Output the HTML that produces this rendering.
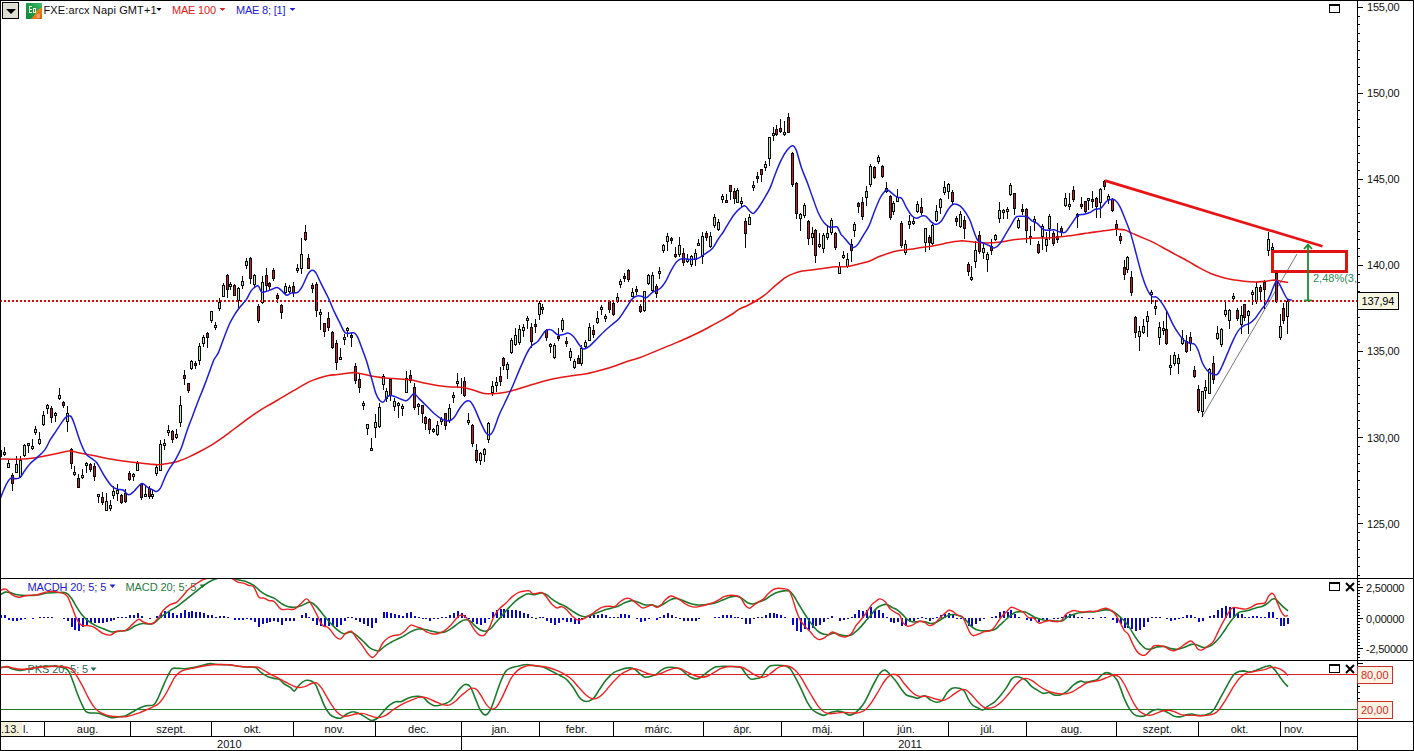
<!DOCTYPE html><html><head><meta charset="utf-8"><title>chart</title><style>html,body{margin:0;padding:0;background:#fff;width:1414px;height:751px;overflow:hidden}</style></head><body><svg width="1414" height="751" viewBox="0 0 1414 751" style="position:absolute;left:0;top:0;font-family:'Liberation Sans',sans-serif;font-size:11px"><rect x="0" y="0" width="1414" height="751" fill="#fff"/><defs><clipPath id="cm"><rect x="1" y="1" width="1356" height="577"/></clipPath><clipPath id="c2"><rect x="1" y="579" width="1356" height="81"/></clipPath><clipPath id="c3"><rect x="1" y="661" width="1356" height="60"/></clipPath></defs><g clip-path="url(#cm)"><line x1="1201.9" y1="417.4" x2="1297" y2="254" stroke="#777" stroke-width="1"/><g fill="#0a0a0a" shape-rendering="crispEdges"><rect x="0" y="450" width="1" height="8"/><rect x="-1" y="450" width="3" height="7"/><rect x="4" y="447" width="1" height="9"/><rect x="3" y="452" width="3" height="3"/><rect x="8" y="460" width="1" height="8"/><rect x="7" y="463" width="3" height="5"/><rect x="12" y="473" width="1" height="18"/><rect x="11" y="475" width="3" height="9"/><rect x="16" y="456" width="1" height="17"/><rect x="15" y="464" width="3" height="9"/><rect x="20" y="456" width="1" height="22"/><rect x="19" y="460" width="3" height="17"/><rect x="24" y="444" width="1" height="13"/><rect x="23" y="445" width="3" height="11"/><rect x="28" y="443" width="1" height="10"/><rect x="27" y="443" width="3" height="3"/><rect x="32" y="439" width="1" height="11"/><rect x="31" y="446" width="3" height="3"/><rect x="35" y="426" width="1" height="9"/><rect x="34" y="429" width="3" height="4"/><rect x="39" y="432" width="1" height="13"/><rect x="38" y="439" width="3" height="5"/><rect x="43" y="411" width="1" height="15"/><rect x="42" y="415" width="3" height="10"/><rect x="47" y="404" width="1" height="10"/><rect x="46" y="405" width="3" height="4"/><rect x="51" y="406" width="1" height="17"/><rect x="50" y="408" width="3" height="10"/><rect x="55" y="412" width="1" height="10"/><rect x="54" y="413" width="3" height="3"/><rect x="59" y="388" width="1" height="12"/><rect x="58" y="395" width="3" height="4"/><rect x="63" y="401" width="1" height="7"/><rect x="62" y="402" width="3" height="4"/><rect x="67" y="406" width="1" height="26"/><rect x="66" y="413" width="3" height="9"/><rect x="71" y="448" width="1" height="21"/><rect x="70" y="449" width="3" height="15"/><rect x="74" y="466" width="1" height="10"/><rect x="73" y="472" width="3" height="3"/><rect x="78" y="474" width="1" height="14"/><rect x="77" y="478" width="3" height="10"/><rect x="82" y="469" width="1" height="10"/><rect x="81" y="475" width="3" height="3"/><rect x="86" y="462" width="1" height="11"/><rect x="85" y="463" width="3" height="3"/><rect x="90" y="463" width="1" height="9"/><rect x="89" y="464" width="3" height="6"/><rect x="94" y="463" width="1" height="18"/><rect x="93" y="466" width="3" height="11"/><rect x="98" y="494" width="1" height="9"/><rect x="97" y="494" width="3" height="3"/><rect x="102" y="492" width="1" height="13"/><rect x="101" y="497" width="3" height="6"/><rect x="106" y="493" width="1" height="18"/><rect x="105" y="501" width="3" height="10"/><rect x="110" y="500" width="1" height="11"/><rect x="109" y="505" width="3" height="4"/><rect x="113" y="486" width="1" height="13"/><rect x="112" y="491" width="3" height="5"/><rect x="117" y="484" width="1" height="17"/><rect x="116" y="490" width="3" height="4"/><rect x="121" y="494" width="1" height="10"/><rect x="120" y="495" width="3" height="8"/><rect x="125" y="489" width="1" height="14"/><rect x="124" y="493" width="3" height="9"/><rect x="129" y="471" width="1" height="10"/><rect x="128" y="473" width="3" height="7"/><rect x="133" y="473" width="1" height="8"/><rect x="132" y="474" width="3" height="3"/><rect x="137" y="461" width="1" height="10"/><rect x="136" y="463" width="3" height="8"/><rect x="141" y="483" width="1" height="17"/><rect x="140" y="484" width="3" height="14"/><rect x="145" y="486" width="1" height="11"/><rect x="144" y="494" width="3" height="3"/><rect x="149" y="486" width="1" height="13"/><rect x="148" y="488" width="3" height="9"/><rect x="152" y="490" width="1" height="9"/><rect x="151" y="494" width="3" height="3"/><rect x="156" y="465" width="1" height="11"/><rect x="155" y="467" width="3" height="7"/><rect x="160" y="440" width="1" height="31"/><rect x="159" y="444" width="3" height="27"/><rect x="164" y="439" width="1" height="11"/><rect x="163" y="443" width="3" height="3"/><rect x="168" y="425" width="1" height="11"/><rect x="167" y="430" width="3" height="3"/><rect x="172" y="430" width="1" height="13"/><rect x="171" y="431" width="3" height="9"/><rect x="176" y="429" width="1" height="10"/><rect x="175" y="434" width="3" height="4"/><rect x="180" y="396" width="1" height="31"/><rect x="179" y="405" width="3" height="18"/><rect x="184" y="370" width="1" height="15"/><rect x="183" y="375" width="3" height="4"/><rect x="188" y="383" width="1" height="10"/><rect x="187" y="383" width="3" height="8"/><rect x="191" y="360" width="1" height="10"/><rect x="190" y="361" width="3" height="8"/><rect x="195" y="361" width="1" height="8"/><rect x="194" y="363" width="3" height="3"/><rect x="199" y="343" width="1" height="22"/><rect x="198" y="346" width="3" height="15"/><rect x="203" y="335" width="1" height="12"/><rect x="202" y="337" width="3" height="7"/><rect x="207" y="332" width="1" height="16"/><rect x="206" y="333" width="3" height="5"/><rect x="211" y="311" width="1" height="12"/><rect x="210" y="311" width="3" height="10"/><rect x="215" y="322" width="1" height="8"/><rect x="214" y="325" width="3" height="3"/><rect x="219" y="298" width="1" height="13"/><rect x="218" y="302" width="3" height="7"/><rect x="223" y="283" width="1" height="14"/><rect x="222" y="285" width="3" height="12"/><rect x="227" y="274" width="1" height="24"/><rect x="226" y="275" width="3" height="15"/><rect x="230" y="282" width="1" height="8"/><rect x="229" y="284" width="3" height="3"/><rect x="234" y="284" width="1" height="12"/><rect x="233" y="285" width="3" height="11"/><rect x="238" y="287" width="1" height="21"/><rect x="237" y="288" width="3" height="13"/><rect x="242" y="276" width="1" height="13"/><rect x="241" y="281" width="3" height="5"/><rect x="246" y="258" width="1" height="11"/><rect x="245" y="261" width="3" height="5"/><rect x="250" y="257" width="1" height="27"/><rect x="249" y="258" width="3" height="21"/><rect x="254" y="274" width="1" height="13"/><rect x="253" y="275" width="3" height="10"/><rect x="258" y="304" width="1" height="19"/><rect x="257" y="306" width="3" height="15"/><rect x="262" y="276" width="1" height="28"/><rect x="261" y="282" width="3" height="21"/><rect x="266" y="268" width="1" height="23"/><rect x="265" y="275" width="3" height="11"/><rect x="269" y="282" width="1" height="8"/><rect x="268" y="283" width="3" height="4"/><rect x="273" y="268" width="1" height="13"/><rect x="272" y="270" width="3" height="9"/><rect x="277" y="293" width="1" height="10"/><rect x="276" y="295" width="3" height="4"/><rect x="281" y="304" width="1" height="15"/><rect x="280" y="305" width="3" height="8"/><rect x="285" y="283" width="1" height="11"/><rect x="284" y="286" width="3" height="7"/><rect x="289" y="285" width="1" height="8"/><rect x="288" y="287" width="3" height="5"/><rect x="293" y="282" width="1" height="15"/><rect x="292" y="286" width="3" height="7"/><rect x="297" y="264" width="1" height="9"/><rect x="296" y="268" width="3" height="3"/><rect x="301" y="238" width="1" height="36"/><rect x="300" y="254" width="3" height="15"/><rect x="305" y="225" width="1" height="16"/><rect x="304" y="232" width="3" height="8"/><rect x="308" y="254" width="1" height="15"/><rect x="307" y="258" width="3" height="11"/><rect x="312" y="283" width="1" height="10"/><rect x="311" y="285" width="3" height="4"/><rect x="316" y="282" width="1" height="35"/><rect x="315" y="284" width="3" height="27"/><rect x="320" y="309" width="1" height="21"/><rect x="319" y="312" width="3" height="3"/><rect x="324" y="323" width="1" height="14"/><rect x="323" y="323" width="3" height="9"/><rect x="328" y="312" width="1" height="19"/><rect x="327" y="318" width="3" height="10"/><rect x="332" y="331" width="1" height="18"/><rect x="331" y="332" width="3" height="16"/><rect x="336" y="340" width="1" height="30"/><rect x="335" y="343" width="3" height="20"/><rect x="340" y="348" width="1" height="11"/><rect x="339" y="357" width="3" height="3"/><rect x="344" y="334" width="1" height="11"/><rect x="343" y="337" width="3" height="3"/><rect x="347" y="327" width="1" height="10"/><rect x="346" y="328" width="3" height="3"/><rect x="351" y="333" width="1" height="14"/><rect x="350" y="335" width="3" height="3"/><rect x="355" y="363" width="1" height="21"/><rect x="354" y="366" width="3" height="15"/><rect x="359" y="374" width="1" height="19"/><rect x="358" y="379" width="3" height="9"/><rect x="363" y="401" width="1" height="9"/><rect x="362" y="403" width="3" height="3"/><rect x="367" y="424" width="1" height="11"/><rect x="366" y="424" width="3" height="5"/><rect x="371" y="438" width="1" height="13"/><rect x="370" y="448" width="3" height="3"/><rect x="375" y="414" width="1" height="24"/><rect x="374" y="422" width="3" height="6"/><rect x="379" y="403" width="1" height="25"/><rect x="378" y="407" width="3" height="20"/><rect x="383" y="374" width="1" height="16"/><rect x="382" y="376" width="3" height="9"/><rect x="386" y="388" width="1" height="14"/><rect x="385" y="391" width="3" height="8"/><rect x="390" y="378" width="1" height="23"/><rect x="389" y="379" width="3" height="17"/><rect x="394" y="398" width="1" height="13"/><rect x="393" y="401" width="3" height="6"/><rect x="398" y="402" width="1" height="16"/><rect x="397" y="403" width="3" height="3"/><rect x="402" y="404" width="1" height="12"/><rect x="401" y="406" width="3" height="3"/><rect x="406" y="371" width="1" height="22"/><rect x="405" y="378" width="3" height="15"/><rect x="410" y="370" width="1" height="13"/><rect x="409" y="375" width="3" height="6"/><rect x="414" y="383" width="1" height="27"/><rect x="413" y="387" width="3" height="21"/><rect x="418" y="403" width="1" height="12"/><rect x="417" y="404" width="3" height="3"/><rect x="422" y="405" width="1" height="18"/><rect x="421" y="405" width="3" height="9"/><rect x="425" y="416" width="1" height="14"/><rect x="424" y="417" width="3" height="7"/><rect x="429" y="418" width="1" height="16"/><rect x="428" y="419" width="3" height="11"/><rect x="433" y="428" width="1" height="5"/><rect x="432" y="429" width="3" height="3"/><rect x="437" y="421" width="1" height="15"/><rect x="436" y="425" width="3" height="10"/><rect x="441" y="417" width="1" height="8"/><rect x="440" y="419" width="3" height="3"/><rect x="445" y="413" width="1" height="17"/><rect x="444" y="413" width="3" height="13"/><rect x="449" y="404" width="1" height="19"/><rect x="448" y="408" width="3" height="13"/><rect x="453" y="392" width="1" height="11"/><rect x="452" y="395" width="3" height="3"/><rect x="457" y="373" width="1" height="15"/><rect x="456" y="381" width="3" height="3"/><rect x="461" y="378" width="1" height="16"/><rect x="464" y="377" width="1" height="20"/><rect x="463" y="381" width="3" height="15"/><rect x="468" y="413" width="1" height="12"/><rect x="467" y="420" width="3" height="3"/><rect x="472" y="424" width="1" height="23"/><rect x="471" y="425" width="3" height="19"/><rect x="476" y="444" width="1" height="19"/><rect x="475" y="450" width="3" height="11"/><rect x="480" y="452" width="1" height="13"/><rect x="479" y="453" width="3" height="8"/><rect x="484" y="448" width="1" height="14"/><rect x="483" y="449" width="3" height="6"/><rect x="488" y="422" width="1" height="21"/><rect x="487" y="423" width="3" height="17"/><rect x="492" y="381" width="1" height="15"/><rect x="491" y="386" width="3" height="7"/><rect x="496" y="377" width="1" height="15"/><rect x="495" y="382" width="3" height="4"/><rect x="500" y="367" width="1" height="19"/><rect x="499" y="376" width="3" height="6"/><rect x="503" y="357" width="1" height="13"/><rect x="502" y="358" width="3" height="8"/><rect x="507" y="362" width="1" height="17"/><rect x="506" y="364" width="3" height="6"/><rect x="511" y="338" width="1" height="16"/><rect x="510" y="340" width="3" height="13"/><rect x="515" y="328" width="1" height="18"/><rect x="514" y="335" width="3" height="10"/><rect x="519" y="325" width="1" height="20"/><rect x="518" y="329" width="3" height="14"/><rect x="523" y="324" width="1" height="13"/><rect x="522" y="327" width="3" height="4"/><rect x="527" y="316" width="1" height="13"/><rect x="526" y="318" width="3" height="3"/><rect x="531" y="323" width="1" height="25"/><rect x="530" y="327" width="3" height="15"/><rect x="535" y="319" width="1" height="14"/><rect x="534" y="324" width="3" height="3"/><rect x="539" y="301" width="1" height="19"/><rect x="538" y="303" width="3" height="12"/><rect x="542" y="304" width="1" height="10"/><rect x="541" y="307" width="3" height="3"/><rect x="546" y="329" width="1" height="12"/><rect x="545" y="330" width="3" height="8"/><rect x="550" y="343" width="1" height="10"/><rect x="549" y="344" width="3" height="3"/><rect x="554" y="343" width="1" height="16"/><rect x="553" y="345" width="3" height="13"/><rect x="558" y="328" width="1" height="13"/><rect x="557" y="336" width="3" height="3"/><rect x="562" y="318" width="1" height="14"/><rect x="561" y="320" width="3" height="10"/><rect x="566" y="337" width="1" height="10"/><rect x="565" y="341" width="3" height="3"/><rect x="570" y="348" width="1" height="13"/><rect x="569" y="351" width="3" height="7"/><rect x="574" y="359" width="1" height="10"/><rect x="573" y="361" width="3" height="7"/><rect x="578" y="355" width="1" height="9"/><rect x="577" y="358" width="3" height="6"/><rect x="581" y="345" width="1" height="21"/><rect x="580" y="348" width="3" height="16"/><rect x="585" y="340" width="1" height="8"/><rect x="584" y="342" width="3" height="5"/><rect x="589" y="323" width="1" height="18"/><rect x="588" y="327" width="3" height="14"/><rect x="593" y="325" width="1" height="13"/><rect x="592" y="330" width="3" height="5"/><rect x="597" y="311" width="1" height="13"/><rect x="596" y="318" width="3" height="5"/><rect x="601" y="305" width="1" height="10"/><rect x="600" y="307" width="3" height="3"/><rect x="605" y="314" width="1" height="8"/><rect x="604" y="316" width="3" height="3"/><rect x="609" y="301" width="1" height="12"/><rect x="608" y="301" width="3" height="9"/><rect x="613" y="301" width="1" height="15"/><rect x="612" y="303" width="3" height="12"/><rect x="617" y="293" width="1" height="10"/><rect x="616" y="297" width="3" height="5"/><rect x="620" y="279" width="1" height="9"/><rect x="619" y="281" width="3" height="4"/><rect x="624" y="273" width="1" height="9"/><rect x="623" y="276" width="3" height="3"/><rect x="628" y="269" width="1" height="13"/><rect x="627" y="270" width="3" height="10"/><rect x="632" y="288" width="1" height="9"/><rect x="631" y="292" width="3" height="5"/><rect x="636" y="286" width="1" height="9"/><rect x="635" y="289" width="3" height="3"/><rect x="640" y="304" width="1" height="9"/><rect x="639" y="306" width="3" height="6"/><rect x="644" y="291" width="1" height="21"/><rect x="643" y="291" width="3" height="20"/><rect x="648" y="274" width="1" height="11"/><rect x="647" y="275" width="3" height="9"/><rect x="652" y="272" width="1" height="20"/><rect x="651" y="275" width="3" height="16"/><rect x="656" y="284" width="1" height="14"/><rect x="655" y="286" width="3" height="8"/><rect x="659" y="267" width="1" height="12"/><rect x="658" y="271" width="3" height="3"/><rect x="663" y="244" width="1" height="9"/><rect x="662" y="245" width="3" height="6"/><rect x="667" y="233" width="1" height="18"/><rect x="666" y="236" width="3" height="6"/><rect x="671" y="237" width="1" height="7"/><rect x="670" y="238" width="3" height="3"/><rect x="675" y="247" width="1" height="11"/><rect x="674" y="254" width="3" height="3"/><rect x="679" y="237" width="1" height="20"/><rect x="678" y="245" width="3" height="10"/><rect x="683" y="248" width="1" height="18"/><rect x="682" y="253" width="3" height="10"/><rect x="687" y="254" width="1" height="9"/><rect x="686" y="259" width="3" height="3"/><rect x="691" y="255" width="1" height="12"/><rect x="690" y="256" width="3" height="9"/><rect x="695" y="249" width="1" height="17"/><rect x="694" y="253" width="3" height="7"/><rect x="698" y="239" width="1" height="7"/><rect x="697" y="243" width="3" height="3"/><rect x="702" y="232" width="1" height="32"/><rect x="701" y="236" width="3" height="21"/><rect x="706" y="231" width="1" height="10"/><rect x="705" y="233" width="3" height="5"/><rect x="710" y="232" width="1" height="16"/><rect x="709" y="236" width="3" height="11"/><rect x="714" y="214" width="1" height="14"/><rect x="713" y="217" width="3" height="9"/><rect x="718" y="219" width="1" height="12"/><rect x="717" y="222" width="3" height="8"/><rect x="722" y="194" width="1" height="9"/><rect x="721" y="196" width="3" height="4"/><rect x="726" y="194" width="1" height="8"/><rect x="725" y="200" width="3" height="3"/><rect x="730" y="185" width="1" height="15"/><rect x="729" y="185" width="3" height="7"/><rect x="734" y="188" width="1" height="16"/><rect x="733" y="191" width="3" height="8"/><rect x="737" y="188" width="1" height="15"/><rect x="736" y="190" width="3" height="13"/><rect x="741" y="197" width="1" height="10"/><rect x="740" y="201" width="3" height="3"/><rect x="745" y="218" width="1" height="30"/><rect x="744" y="221" width="3" height="13"/><rect x="749" y="214" width="1" height="11"/><rect x="748" y="217" width="3" height="8"/><rect x="753" y="181" width="1" height="10"/><rect x="752" y="185" width="3" height="3"/><rect x="757" y="172" width="1" height="11"/><rect x="756" y="176" width="3" height="3"/><rect x="761" y="169" width="1" height="13"/><rect x="760" y="169" width="3" height="6"/><rect x="765" y="161" width="1" height="10"/><rect x="764" y="164" width="3" height="4"/><rect x="769" y="137" width="1" height="29"/><rect x="768" y="137" width="3" height="22"/><rect x="773" y="127" width="1" height="14"/><rect x="772" y="133" width="3" height="3"/><rect x="776" y="125" width="1" height="11"/><rect x="775" y="129" width="3" height="6"/><rect x="780" y="119" width="1" height="14"/><rect x="779" y="128" width="3" height="4"/><rect x="784" y="121" width="1" height="15"/><rect x="783" y="132" width="3" height="3"/><rect x="788" y="113" width="1" height="20"/><rect x="787" y="117" width="3" height="16"/><rect x="792" y="152" width="1" height="35"/><rect x="791" y="153" width="3" height="32"/><rect x="796" y="182" width="1" height="37"/><rect x="795" y="183" width="3" height="31"/><rect x="800" y="213" width="1" height="18"/><rect x="799" y="214" width="3" height="5"/><rect x="804" y="203" width="1" height="15"/><rect x="803" y="205" width="3" height="11"/><rect x="808" y="220" width="1" height="25"/><rect x="807" y="221" width="3" height="18"/><rect x="812" y="227" width="1" height="18"/><rect x="811" y="233" width="3" height="5"/><rect x="815" y="229" width="1" height="34"/><rect x="814" y="230" width="3" height="26"/><rect x="819" y="233" width="1" height="15"/><rect x="818" y="244" width="3" height="3"/><rect x="823" y="233" width="1" height="20"/><rect x="822" y="235" width="3" height="14"/><rect x="827" y="225" width="1" height="15"/><rect x="826" y="233" width="3" height="5"/><rect x="831" y="218" width="1" height="17"/><rect x="830" y="220" width="3" height="13"/><rect x="835" y="232" width="1" height="18"/><rect x="834" y="233" width="3" height="15"/><rect x="839" y="262" width="1" height="12"/><rect x="838" y="266" width="3" height="8"/><rect x="843" y="251" width="1" height="8"/><rect x="842" y="255" width="3" height="3"/><rect x="847" y="253" width="1" height="15"/><rect x="846" y="259" width="3" height="8"/><rect x="851" y="239" width="1" height="23"/><rect x="850" y="244" width="3" height="7"/><rect x="854" y="222" width="1" height="15"/><rect x="853" y="224" width="3" height="7"/><rect x="858" y="202" width="1" height="11"/><rect x="857" y="203" width="3" height="4"/><rect x="862" y="197" width="1" height="23"/><rect x="861" y="202" width="3" height="15"/><rect x="866" y="186" width="1" height="20"/><rect x="865" y="191" width="3" height="7"/><rect x="870" y="164" width="1" height="23"/><rect x="869" y="166" width="3" height="19"/><rect x="874" y="166" width="1" height="13"/><rect x="873" y="167" width="3" height="11"/><rect x="878" y="155" width="1" height="9"/><rect x="877" y="157" width="3" height="5"/><rect x="882" y="165" width="1" height="13"/><rect x="881" y="166" width="3" height="11"/><rect x="886" y="182" width="1" height="11"/><rect x="885" y="188" width="3" height="4"/><rect x="890" y="195" width="1" height="25"/><rect x="889" y="196" width="3" height="22"/><rect x="893" y="201" width="1" height="14"/><rect x="892" y="203" width="3" height="9"/><rect x="897" y="189" width="1" height="13"/><rect x="896" y="197" width="3" height="5"/><rect x="901" y="221" width="1" height="27"/><rect x="900" y="223" width="3" height="23"/><rect x="905" y="240" width="1" height="15"/><rect x="904" y="244" width="3" height="9"/><rect x="909" y="215" width="1" height="14"/><rect x="908" y="221" width="3" height="4"/><rect x="913" y="217" width="1" height="8"/><rect x="912" y="221" width="3" height="3"/><rect x="917" y="201" width="1" height="12"/><rect x="916" y="204" width="3" height="8"/><rect x="921" y="198" width="1" height="17"/><rect x="920" y="207" width="3" height="6"/><rect x="925" y="228" width="1" height="24"/><rect x="924" y="228" width="3" height="15"/><rect x="929" y="235" width="1" height="15"/><rect x="928" y="237" width="3" height="6"/><rect x="932" y="224" width="1" height="21"/><rect x="931" y="225" width="3" height="19"/><rect x="936" y="205" width="1" height="17"/><rect x="935" y="211" width="3" height="10"/><rect x="940" y="198" width="1" height="16"/><rect x="939" y="199" width="3" height="9"/><rect x="944" y="181" width="1" height="14"/><rect x="943" y="187" width="3" height="6"/><rect x="948" y="183" width="1" height="16"/><rect x="947" y="184" width="3" height="8"/><rect x="952" y="190" width="1" height="14"/><rect x="951" y="192" width="3" height="10"/><rect x="956" y="216" width="1" height="10"/><rect x="955" y="218" width="3" height="4"/><rect x="960" y="211" width="1" height="17"/><rect x="959" y="214" width="3" height="13"/><rect x="964" y="216" width="1" height="23"/><rect x="963" y="220" width="3" height="9"/><rect x="968" y="262" width="1" height="14"/><rect x="967" y="264" width="3" height="8"/><rect x="971" y="266" width="1" height="15"/><rect x="970" y="277" width="3" height="3"/><rect x="975" y="241" width="1" height="27"/><rect x="974" y="250" width="3" height="12"/><rect x="979" y="231" width="1" height="23"/><rect x="978" y="235" width="3" height="17"/><rect x="983" y="242" width="1" height="17"/><rect x="982" y="248" width="3" height="5"/><rect x="987" y="252" width="1" height="20"/><rect x="986" y="254" width="3" height="6"/><rect x="991" y="239" width="1" height="16"/><rect x="990" y="246" width="3" height="5"/><rect x="995" y="234" width="1" height="7"/><rect x="994" y="235" width="3" height="5"/><rect x="999" y="202" width="1" height="21"/><rect x="998" y="210" width="3" height="9"/><rect x="1003" y="209" width="1" height="10"/><rect x="1002" y="210" width="3" height="3"/><rect x="1007" y="207" width="1" height="12"/><rect x="1006" y="209" width="3" height="3"/><rect x="1010" y="183" width="1" height="13"/><rect x="1009" y="185" width="3" height="10"/><rect x="1014" y="193" width="1" height="22"/><rect x="1013" y="193" width="3" height="16"/><rect x="1018" y="218" width="1" height="11"/><rect x="1017" y="220" width="3" height="8"/><rect x="1022" y="204" width="1" height="11"/><rect x="1021" y="209" width="3" height="3"/><rect x="1026" y="208" width="1" height="35"/><rect x="1025" y="209" width="3" height="22"/><rect x="1030" y="226" width="1" height="19"/><rect x="1029" y="236" width="3" height="3"/><rect x="1034" y="216" width="1" height="15"/><rect x="1033" y="219" width="3" height="3"/><rect x="1038" y="241" width="1" height="13"/><rect x="1037" y="244" width="3" height="9"/><rect x="1042" y="224" width="1" height="26"/><rect x="1041" y="226" width="3" height="11"/><rect x="1046" y="232" width="1" height="20"/><rect x="1045" y="239" width="3" height="7"/><rect x="1049" y="214" width="1" height="26"/><rect x="1048" y="216" width="3" height="13"/><rect x="1053" y="231" width="1" height="15"/><rect x="1052" y="233" width="3" height="11"/><rect x="1057" y="223" width="1" height="20"/><rect x="1056" y="236" width="3" height="4"/><rect x="1061" y="226" width="1" height="11"/><rect x="1060" y="228" width="3" height="4"/><rect x="1065" y="193" width="1" height="14"/><rect x="1064" y="198" width="3" height="8"/><rect x="1069" y="193" width="1" height="17"/><rect x="1068" y="204" width="3" height="3"/><rect x="1073" y="186" width="1" height="16"/><rect x="1072" y="190" width="3" height="10"/><rect x="1077" y="213" width="1" height="15"/><rect x="1076" y="214" width="3" height="3"/><rect x="1081" y="197" width="1" height="12"/><rect x="1080" y="204" width="3" height="3"/><rect x="1085" y="201" width="1" height="12"/><rect x="1084" y="201" width="3" height="11"/><rect x="1088" y="198" width="1" height="12"/><rect x="1087" y="198" width="3" height="3"/><rect x="1092" y="191" width="1" height="17"/><rect x="1091" y="199" width="3" height="3"/><rect x="1096" y="197" width="1" height="21"/><rect x="1095" y="198" width="3" height="9"/><rect x="1100" y="188" width="1" height="30"/><rect x="1099" y="189" width="3" height="14"/><rect x="1104" y="180" width="1" height="10"/><rect x="1103" y="181" width="3" height="6"/><rect x="1108" y="194" width="1" height="10"/><rect x="1107" y="196" width="3" height="4"/><rect x="1112" y="198" width="1" height="14"/><rect x="1111" y="199" width="3" height="12"/><rect x="1116" y="220" width="1" height="16"/><rect x="1115" y="224" width="3" height="5"/><rect x="1120" y="233" width="1" height="11"/><rect x="1119" y="236" width="3" height="5"/><rect x="1124" y="260" width="1" height="20"/><rect x="1123" y="267" width="3" height="8"/><rect x="1127" y="256" width="1" height="17"/><rect x="1126" y="257" width="3" height="13"/><rect x="1131" y="271" width="1" height="25"/><rect x="1130" y="277" width="3" height="16"/><rect x="1135" y="316" width="1" height="22"/><rect x="1134" y="317" width="3" height="16"/><rect x="1139" y="326" width="1" height="25"/><rect x="1138" y="331" width="3" height="6"/><rect x="1143" y="319" width="1" height="15"/><rect x="1142" y="326" width="3" height="7"/><rect x="1147" y="311" width="1" height="26"/><rect x="1146" y="316" width="3" height="6"/><rect x="1151" y="290" width="1" height="14"/><rect x="1150" y="292" width="3" height="3"/><rect x="1155" y="300" width="1" height="15"/><rect x="1154" y="306" width="3" height="3"/><rect x="1159" y="322" width="1" height="23"/><rect x="1158" y="327" width="3" height="11"/><rect x="1163" y="321" width="1" height="14"/><rect x="1162" y="328" width="3" height="3"/><rect x="1166" y="311" width="1" height="34"/><rect x="1165" y="329" width="3" height="15"/><rect x="1170" y="355" width="1" height="20"/><rect x="1169" y="365" width="3" height="3"/><rect x="1174" y="352" width="1" height="14"/><rect x="1173" y="355" width="3" height="9"/><rect x="1178" y="354" width="1" height="20"/><rect x="1177" y="358" width="3" height="6"/><rect x="1182" y="330" width="1" height="15"/><rect x="1181" y="338" width="3" height="6"/><rect x="1186" y="335" width="1" height="18"/><rect x="1185" y="341" width="3" height="11"/><rect x="1190" y="332" width="1" height="19"/><rect x="1189" y="337" width="3" height="7"/><rect x="1194" y="366" width="1" height="12"/><rect x="1193" y="370" width="3" height="7"/><rect x="1198" y="385" width="1" height="28"/><rect x="1197" y="389" width="3" height="22"/><rect x="1202" y="391" width="1" height="26"/><rect x="1201" y="391" width="3" height="21"/><rect x="1205" y="380" width="1" height="19"/><rect x="1204" y="387" width="3" height="4"/><rect x="1209" y="368" width="1" height="26"/><rect x="1208" y="369" width="3" height="25"/><rect x="1213" y="356" width="1" height="28"/><rect x="1212" y="363" width="3" height="17"/><rect x="1217" y="326" width="1" height="14"/><rect x="1216" y="333" width="3" height="6"/><rect x="1221" y="328" width="1" height="19"/><rect x="1220" y="329" width="3" height="16"/><rect x="1225" y="302" width="1" height="15"/><rect x="1224" y="310" width="3" height="5"/><rect x="1229" y="309" width="1" height="20"/><rect x="1228" y="310" width="3" height="11"/><rect x="1233" y="293" width="1" height="9"/><rect x="1232" y="296" width="3" height="3"/><rect x="1237" y="308" width="1" height="13"/><rect x="1236" y="310" width="3" height="9"/><rect x="1241" y="306" width="1" height="28"/><rect x="1240" y="315" width="3" height="10"/><rect x="1244" y="304" width="1" height="17"/><rect x="1243" y="304" width="3" height="14"/><rect x="1248" y="310" width="1" height="24"/><rect x="1247" y="311" width="3" height="5"/><rect x="1252" y="290" width="1" height="15"/><rect x="1251" y="292" width="3" height="3"/><rect x="1256" y="282" width="1" height="22"/><rect x="1255" y="287" width="3" height="15"/><rect x="1260" y="285" width="1" height="16"/><rect x="1259" y="287" width="3" height="5"/><rect x="1264" y="280" width="1" height="29"/><rect x="1263" y="282" width="3" height="8"/><rect x="1268" y="232" width="1" height="24"/><rect x="1267" y="239" width="3" height="12"/><rect x="1272" y="243" width="1" height="7"/><rect x="1271" y="247" width="3" height="3"/><rect x="1276" y="273" width="1" height="30"/><rect x="1275" y="273" width="3" height="29"/><rect x="1280" y="314" width="1" height="26"/><rect x="1279" y="326" width="3" height="12"/><rect x="1283" y="303" width="1" height="21"/><rect x="1282" y="308" width="3" height="13"/><rect x="1287" y="299" width="1" height="35"/><rect x="1286" y="301" width="3" height="16"/></g><g fill="#c2e2c2" shape-rendering="crispEdges"><rect x="4" y="453" width="1" height="1"/><rect x="8" y="464" width="1" height="3"/><rect x="16" y="465" width="1" height="7"/><rect x="20" y="461" width="1" height="15"/><rect x="24" y="446" width="1" height="9"/><rect x="28" y="444" width="1" height="1"/><rect x="32" y="447" width="1" height="1"/><rect x="35" y="430" width="1" height="2"/><rect x="39" y="440" width="1" height="3"/><rect x="43" y="416" width="1" height="8"/><rect x="47" y="406" width="1" height="2"/><rect x="55" y="414" width="1" height="1"/><rect x="59" y="396" width="1" height="2"/><rect x="67" y="414" width="1" height="7"/><rect x="74" y="473" width="1" height="1"/><rect x="82" y="476" width="1" height="1"/><rect x="86" y="464" width="1" height="1"/><rect x="98" y="495" width="1" height="1"/><rect x="106" y="502" width="1" height="8"/><rect x="110" y="506" width="1" height="2"/><rect x="113" y="492" width="1" height="3"/><rect x="117" y="491" width="1" height="2"/><rect x="133" y="475" width="1" height="1"/><rect x="137" y="464" width="1" height="6"/><rect x="145" y="495" width="1" height="1"/><rect x="152" y="495" width="1" height="1"/><rect x="156" y="468" width="1" height="5"/><rect x="160" y="445" width="1" height="25"/><rect x="164" y="444" width="1" height="1"/><rect x="168" y="431" width="1" height="1"/><rect x="176" y="435" width="1" height="2"/><rect x="180" y="406" width="1" height="16"/><rect x="191" y="362" width="1" height="6"/><rect x="199" y="347" width="1" height="13"/><rect x="203" y="338" width="1" height="5"/><rect x="211" y="312" width="1" height="8"/><rect x="215" y="326" width="1" height="1"/><rect x="219" y="303" width="1" height="5"/><rect x="223" y="286" width="1" height="10"/><rect x="230" y="285" width="1" height="1"/><rect x="238" y="289" width="1" height="11"/><rect x="242" y="282" width="1" height="3"/><rect x="246" y="262" width="1" height="3"/><rect x="254" y="276" width="1" height="8"/><rect x="262" y="283" width="1" height="19"/><rect x="285" y="287" width="1" height="5"/><rect x="289" y="288" width="1" height="3"/><rect x="297" y="269" width="1" height="1"/><rect x="301" y="255" width="1" height="13"/><rect x="320" y="313" width="1" height="1"/><rect x="340" y="358" width="1" height="1"/><rect x="344" y="338" width="1" height="1"/><rect x="347" y="329" width="1" height="1"/><rect x="363" y="404" width="1" height="1"/><rect x="367" y="425" width="1" height="3"/><rect x="371" y="449" width="1" height="1"/><rect x="375" y="423" width="1" height="4"/><rect x="379" y="408" width="1" height="18"/><rect x="383" y="377" width="1" height="7"/><rect x="386" y="392" width="1" height="6"/><rect x="394" y="402" width="1" height="4"/><rect x="398" y="404" width="1" height="1"/><rect x="402" y="407" width="1" height="1"/><rect x="406" y="379" width="1" height="13"/><rect x="418" y="405" width="1" height="1"/><rect x="433" y="430" width="1" height="1"/><rect x="437" y="426" width="1" height="8"/><rect x="441" y="420" width="1" height="1"/><rect x="449" y="409" width="1" height="11"/><rect x="453" y="396" width="1" height="1"/><rect x="457" y="382" width="1" height="1"/><rect x="468" y="421" width="1" height="1"/><rect x="480" y="454" width="1" height="6"/><rect x="484" y="450" width="1" height="4"/><rect x="488" y="424" width="1" height="15"/><rect x="492" y="387" width="1" height="5"/><rect x="496" y="383" width="1" height="2"/><rect x="507" y="365" width="1" height="4"/><rect x="511" y="341" width="1" height="11"/><rect x="515" y="336" width="1" height="8"/><rect x="519" y="330" width="1" height="12"/><rect x="523" y="328" width="1" height="2"/><rect x="527" y="319" width="1" height="1"/><rect x="539" y="304" width="1" height="10"/><rect x="542" y="308" width="1" height="1"/><rect x="550" y="345" width="1" height="1"/><rect x="554" y="346" width="1" height="11"/><rect x="562" y="321" width="1" height="8"/><rect x="570" y="352" width="1" height="5"/><rect x="574" y="362" width="1" height="5"/><rect x="581" y="349" width="1" height="14"/><rect x="585" y="343" width="1" height="3"/><rect x="589" y="328" width="1" height="12"/><rect x="597" y="319" width="1" height="3"/><rect x="601" y="308" width="1" height="1"/><rect x="605" y="317" width="1" height="1"/><rect x="617" y="298" width="1" height="3"/><rect x="620" y="282" width="1" height="2"/><rect x="632" y="293" width="1" height="3"/><rect x="644" y="292" width="1" height="18"/><rect x="648" y="276" width="1" height="7"/><rect x="652" y="276" width="1" height="14"/><rect x="659" y="272" width="1" height="1"/><rect x="663" y="246" width="1" height="4"/><rect x="667" y="237" width="1" height="4"/><rect x="679" y="246" width="1" height="8"/><rect x="687" y="260" width="1" height="1"/><rect x="691" y="257" width="1" height="7"/><rect x="695" y="254" width="1" height="5"/><rect x="698" y="244" width="1" height="1"/><rect x="702" y="237" width="1" height="19"/><rect x="710" y="237" width="1" height="9"/><rect x="714" y="218" width="1" height="7"/><rect x="718" y="223" width="1" height="6"/><rect x="722" y="197" width="1" height="2"/><rect x="737" y="191" width="1" height="11"/><rect x="741" y="202" width="1" height="1"/><rect x="749" y="218" width="1" height="6"/><rect x="753" y="186" width="1" height="1"/><rect x="765" y="165" width="1" height="2"/><rect x="769" y="138" width="1" height="20"/><rect x="773" y="134" width="1" height="1"/><rect x="784" y="133" width="1" height="1"/><rect x="800" y="215" width="1" height="3"/><rect x="804" y="206" width="1" height="9"/><rect x="812" y="234" width="1" height="3"/><rect x="819" y="245" width="1" height="1"/><rect x="823" y="236" width="1" height="12"/><rect x="827" y="234" width="1" height="3"/><rect x="831" y="221" width="1" height="11"/><rect x="839" y="267" width="1" height="6"/><rect x="843" y="256" width="1" height="1"/><rect x="847" y="260" width="1" height="6"/><rect x="854" y="225" width="1" height="5"/><rect x="866" y="192" width="1" height="5"/><rect x="870" y="167" width="1" height="17"/><rect x="878" y="158" width="1" height="3"/><rect x="886" y="189" width="1" height="2"/><rect x="893" y="204" width="1" height="7"/><rect x="897" y="198" width="1" height="3"/><rect x="905" y="245" width="1" height="7"/><rect x="909" y="222" width="1" height="2"/><rect x="913" y="222" width="1" height="1"/><rect x="917" y="205" width="1" height="6"/><rect x="925" y="229" width="1" height="13"/><rect x="932" y="226" width="1" height="17"/><rect x="936" y="212" width="1" height="8"/><rect x="940" y="200" width="1" height="7"/><rect x="944" y="188" width="1" height="4"/><rect x="948" y="185" width="1" height="6"/><rect x="960" y="215" width="1" height="11"/><rect x="971" y="278" width="1" height="1"/><rect x="975" y="251" width="1" height="10"/><rect x="983" y="249" width="1" height="3"/><rect x="987" y="255" width="1" height="4"/><rect x="995" y="236" width="1" height="3"/><rect x="999" y="211" width="1" height="7"/><rect x="1003" y="211" width="1" height="1"/><rect x="1007" y="210" width="1" height="1"/><rect x="1010" y="186" width="1" height="8"/><rect x="1018" y="221" width="1" height="6"/><rect x="1034" y="220" width="1" height="1"/><rect x="1042" y="227" width="1" height="9"/><rect x="1046" y="240" width="1" height="5"/><rect x="1049" y="217" width="1" height="11"/><rect x="1065" y="199" width="1" height="6"/><rect x="1069" y="205" width="1" height="1"/><rect x="1088" y="199" width="1" height="1"/><rect x="1100" y="190" width="1" height="12"/><rect x="1108" y="197" width="1" height="2"/><rect x="1127" y="258" width="1" height="11"/><rect x="1139" y="332" width="1" height="4"/><rect x="1143" y="327" width="1" height="5"/><rect x="1147" y="317" width="1" height="4"/><rect x="1151" y="293" width="1" height="1"/><rect x="1155" y="307" width="1" height="1"/><rect x="1159" y="328" width="1" height="9"/><rect x="1163" y="329" width="1" height="1"/><rect x="1170" y="366" width="1" height="1"/><rect x="1174" y="356" width="1" height="7"/><rect x="1178" y="359" width="1" height="4"/><rect x="1182" y="339" width="1" height="4"/><rect x="1202" y="392" width="1" height="19"/><rect x="1205" y="388" width="1" height="2"/><rect x="1209" y="370" width="1" height="23"/><rect x="1217" y="334" width="1" height="4"/><rect x="1221" y="330" width="1" height="14"/><rect x="1225" y="311" width="1" height="3"/><rect x="1229" y="311" width="1" height="9"/><rect x="1233" y="297" width="1" height="1"/><rect x="1241" y="316" width="1" height="8"/><rect x="1248" y="312" width="1" height="3"/><rect x="1252" y="293" width="1" height="1"/><rect x="1256" y="288" width="1" height="13"/><rect x="1268" y="240" width="1" height="10"/><rect x="1272" y="248" width="1" height="1"/><rect x="1280" y="327" width="1" height="10"/><rect x="1287" y="302" width="1" height="14"/></g><g fill="#bc2030" shape-rendering="crispEdges"><rect x="0" y="451" width="1" height="5"/><rect x="12" y="476" width="1" height="7"/><rect x="51" y="409" width="1" height="8"/><rect x="63" y="403" width="1" height="2"/><rect x="71" y="450" width="1" height="13"/><rect x="78" y="479" width="1" height="8"/><rect x="90" y="465" width="1" height="4"/><rect x="94" y="467" width="1" height="9"/><rect x="102" y="498" width="1" height="4"/><rect x="121" y="496" width="1" height="6"/><rect x="125" y="494" width="1" height="7"/><rect x="129" y="474" width="1" height="5"/><rect x="141" y="485" width="1" height="12"/><rect x="149" y="489" width="1" height="7"/><rect x="172" y="432" width="1" height="7"/><rect x="184" y="376" width="1" height="2"/><rect x="188" y="384" width="1" height="6"/><rect x="195" y="364" width="1" height="1"/><rect x="207" y="334" width="1" height="3"/><rect x="227" y="276" width="1" height="13"/><rect x="234" y="286" width="1" height="9"/><rect x="250" y="259" width="1" height="19"/><rect x="258" y="307" width="1" height="13"/><rect x="266" y="276" width="1" height="9"/><rect x="269" y="284" width="1" height="2"/><rect x="273" y="271" width="1" height="7"/><rect x="277" y="296" width="1" height="2"/><rect x="281" y="306" width="1" height="6"/><rect x="293" y="287" width="1" height="5"/><rect x="305" y="233" width="1" height="6"/><rect x="308" y="259" width="1" height="9"/><rect x="312" y="286" width="1" height="2"/><rect x="316" y="285" width="1" height="25"/><rect x="324" y="324" width="1" height="7"/><rect x="328" y="319" width="1" height="8"/><rect x="332" y="333" width="1" height="14"/><rect x="336" y="344" width="1" height="18"/><rect x="351" y="336" width="1" height="1"/><rect x="355" y="367" width="1" height="13"/><rect x="359" y="380" width="1" height="7"/><rect x="390" y="380" width="1" height="15"/><rect x="410" y="376" width="1" height="4"/><rect x="414" y="388" width="1" height="19"/><rect x="422" y="406" width="1" height="7"/><rect x="425" y="418" width="1" height="5"/><rect x="429" y="420" width="1" height="9"/><rect x="445" y="414" width="1" height="11"/><rect x="464" y="382" width="1" height="13"/><rect x="472" y="426" width="1" height="17"/><rect x="476" y="451" width="1" height="9"/><rect x="500" y="377" width="1" height="4"/><rect x="503" y="359" width="1" height="6"/><rect x="531" y="328" width="1" height="13"/><rect x="535" y="325" width="1" height="1"/><rect x="546" y="331" width="1" height="6"/><rect x="558" y="337" width="1" height="1"/><rect x="566" y="342" width="1" height="1"/><rect x="578" y="359" width="1" height="4"/><rect x="593" y="331" width="1" height="3"/><rect x="609" y="302" width="1" height="7"/><rect x="613" y="304" width="1" height="10"/><rect x="624" y="277" width="1" height="1"/><rect x="628" y="271" width="1" height="8"/><rect x="636" y="290" width="1" height="1"/><rect x="640" y="307" width="1" height="4"/><rect x="656" y="287" width="1" height="6"/><rect x="671" y="239" width="1" height="1"/><rect x="675" y="255" width="1" height="1"/><rect x="683" y="254" width="1" height="8"/><rect x="706" y="234" width="1" height="3"/><rect x="726" y="201" width="1" height="1"/><rect x="730" y="186" width="1" height="5"/><rect x="734" y="192" width="1" height="6"/><rect x="745" y="222" width="1" height="11"/><rect x="757" y="177" width="1" height="1"/><rect x="761" y="170" width="1" height="4"/><rect x="776" y="130" width="1" height="4"/><rect x="780" y="129" width="1" height="2"/><rect x="788" y="118" width="1" height="14"/><rect x="792" y="154" width="1" height="30"/><rect x="796" y="184" width="1" height="29"/><rect x="808" y="222" width="1" height="16"/><rect x="815" y="231" width="1" height="24"/><rect x="835" y="234" width="1" height="13"/><rect x="851" y="245" width="1" height="5"/><rect x="858" y="204" width="1" height="2"/><rect x="862" y="203" width="1" height="13"/><rect x="874" y="168" width="1" height="9"/><rect x="882" y="167" width="1" height="9"/><rect x="890" y="197" width="1" height="20"/><rect x="901" y="224" width="1" height="21"/><rect x="921" y="208" width="1" height="4"/><rect x="929" y="238" width="1" height="4"/><rect x="952" y="193" width="1" height="8"/><rect x="956" y="219" width="1" height="2"/><rect x="964" y="221" width="1" height="7"/><rect x="968" y="265" width="1" height="6"/><rect x="979" y="236" width="1" height="15"/><rect x="991" y="247" width="1" height="3"/><rect x="1014" y="194" width="1" height="14"/><rect x="1022" y="210" width="1" height="1"/><rect x="1026" y="210" width="1" height="20"/><rect x="1030" y="237" width="1" height="1"/><rect x="1038" y="245" width="1" height="7"/><rect x="1053" y="234" width="1" height="9"/><rect x="1057" y="237" width="1" height="2"/><rect x="1061" y="229" width="1" height="2"/><rect x="1073" y="191" width="1" height="8"/><rect x="1077" y="215" width="1" height="1"/><rect x="1081" y="205" width="1" height="1"/><rect x="1085" y="202" width="1" height="9"/><rect x="1092" y="200" width="1" height="1"/><rect x="1096" y="199" width="1" height="7"/><rect x="1104" y="182" width="1" height="4"/><rect x="1112" y="200" width="1" height="10"/><rect x="1116" y="225" width="1" height="3"/><rect x="1120" y="237" width="1" height="3"/><rect x="1124" y="268" width="1" height="6"/><rect x="1131" y="278" width="1" height="14"/><rect x="1135" y="318" width="1" height="14"/><rect x="1166" y="330" width="1" height="13"/><rect x="1186" y="342" width="1" height="9"/><rect x="1190" y="338" width="1" height="5"/><rect x="1194" y="371" width="1" height="5"/><rect x="1198" y="390" width="1" height="20"/><rect x="1213" y="364" width="1" height="15"/><rect x="1237" y="311" width="1" height="7"/><rect x="1244" y="305" width="1" height="12"/><rect x="1260" y="288" width="1" height="3"/><rect x="1264" y="283" width="1" height="6"/><rect x="1276" y="274" width="1" height="27"/><rect x="1283" y="309" width="1" height="11"/></g><line x1="0" y1="301" x2="1357" y2="301" stroke="#d40a0a" stroke-width="2" stroke-dasharray="2,2" shape-rendering="crispEdges"/><path d="M0.0,458.9 C3.1,458.9 12.4,459.5 18.6,459.3 C24.9,459.0 31.1,458.3 37.3,457.4 C43.5,456.5 50.7,454.7 55.9,453.7 C61.2,452.6 65.3,451.0 69.0,450.9 C72.7,450.7 74.3,452.0 78.3,452.7 C82.4,453.5 87.6,454.4 93.2,455.5 C98.8,456.6 105.7,458.2 111.9,459.3 C118.1,460.3 124.3,461.3 130.5,462.1 C136.8,462.8 144.5,463.4 149.2,463.9 C153.8,464.4 155.4,464.9 158.5,464.8 C161.6,464.8 165.9,463.7 167.8,463.4 C169.7,463.1 168.4,463.4 170.0,463.1 C171.6,462.8 174.4,462.6 177.5,461.6 C180.6,460.6 184.9,458.8 188.6,457.1 C192.4,455.4 196.1,453.5 199.8,451.5 C203.6,449.6 207.3,447.6 211.0,445.4 C214.8,443.1 218.5,440.5 222.2,437.9 C225.9,435.3 229.7,432.3 233.4,429.5 C237.1,426.7 240.9,423.9 244.6,421.1 C248.3,418.4 252.1,415.6 255.8,413.1 C259.5,410.6 263.2,408.4 267.0,406.2 C270.7,404.0 274.4,401.8 278.2,399.7 C281.9,397.5 285.6,395.3 289.3,393.1 C293.1,391.0 297.1,388.6 300.5,386.6 C304.0,384.7 306.8,382.9 309.9,381.4 C313.0,379.9 316.1,378.9 319.2,377.9 C322.3,376.9 325.4,376.0 328.5,375.4 C331.6,374.9 334.7,374.9 337.8,374.5 C340.9,374.1 344.5,373.5 347.2,373.2 C349.8,372.9 351.5,372.6 353.7,372.6 C355.9,372.7 357.3,373.0 360.2,373.6 C363.2,374.1 367.7,375.3 371.4,376.0 C375.1,376.7 378.9,377.2 382.6,377.7 C386.3,378.1 389.1,378.2 393.8,378.6 C398.4,379.0 405.5,379.1 410.6,379.8 C415.7,380.6 419.8,382.2 424.2,383.1 C428.7,384.1 432.9,384.9 437.3,385.6 C441.6,386.2 446.0,386.6 450.3,386.9 C454.7,387.2 459.4,386.8 463.4,387.4 C467.4,388.1 471.2,389.6 474.6,390.6 C478.0,391.6 480.8,392.9 483.9,393.4 C487.0,393.9 489.8,393.9 493.2,393.8 C496.7,393.6 500.7,393.2 504.4,392.5 C508.2,391.8 511.3,390.9 515.6,389.7 C520.0,388.4 525.6,386.5 530.5,385.0 C535.5,383.5 540.5,382.0 545.5,380.7 C550.4,379.5 555.4,378.5 560.4,377.6 C565.3,376.7 570.9,375.9 575.3,375.3 C579.6,374.7 582.1,374.7 586.5,373.8 C590.8,373.0 596.4,371.5 601.4,370.1 C606.4,368.7 611.7,367.0 616.3,365.4 C621.0,363.9 625.4,362.1 629.4,360.8 C633.3,359.5 633.6,360.0 640.0,357.6 C646.4,355.2 661.6,348.7 667.8,346.1 C674.0,343.6 674.0,343.7 677.2,342.4 C680.3,341.1 683.4,339.7 686.5,338.3 C689.6,336.9 692.7,335.5 695.8,334.0 C698.9,332.5 702.0,331.0 705.1,329.3 C708.2,327.7 711.3,325.8 714.5,324.1 C717.6,322.4 720.7,320.9 723.8,319.1 C726.9,317.3 730.5,315.2 733.1,313.5 C735.7,311.8 736.8,310.5 739.3,309.1 C741.8,307.7 745.0,306.8 748.0,305.2 C751.0,303.7 754.2,302.0 757.3,300.0 C760.4,298.1 763.5,296.0 766.6,293.5 C769.7,291.0 772.8,287.7 775.9,285.1 C779.1,282.5 782.5,279.5 785.3,277.6 C788.1,275.8 789.9,275.0 792.7,273.9 C795.5,272.8 798.6,271.8 802.1,271.1 C805.5,270.4 809.5,270.3 813.2,269.8 C817.0,269.3 820.7,268.8 824.4,268.3 C828.2,267.8 831.9,267.1 835.6,266.8 C839.3,266.5 843.1,266.9 846.8,266.5 C850.5,266.0 854.3,265.1 858.0,264.2 C861.7,263.3 865.8,262.5 869.2,261.2 C872.6,260.0 875.4,258.1 878.5,256.8 C881.6,255.5 884.4,254.4 887.8,253.4 C891.3,252.4 895.3,251.3 899.0,250.6 C902.8,249.9 906.5,249.8 910.2,249.3 C913.9,248.8 917.7,248.0 921.4,247.4 C925.1,246.9 928.9,246.6 932.6,245.9 C936.3,245.3 940.4,244.4 943.8,243.7 C947.2,243.0 950.4,242.3 953.1,241.8 C955.8,241.4 958.1,241.0 960.0,240.9 C961.9,240.8 962.1,240.8 964.8,241.0 C967.4,241.2 972.2,242.0 975.9,242.3 C979.7,242.6 983.4,242.9 987.1,242.9 C990.9,242.9 994.6,242.7 998.3,242.3 C1002.1,241.9 1005.8,241.0 1009.5,240.4 C1013.2,239.9 1017.0,239.3 1020.7,239.0 C1024.4,238.6 1028.2,238.4 1031.9,238.2 C1035.6,238.0 1039.3,238.1 1043.1,238.0 C1046.8,237.9 1050.5,238.0 1054.3,237.6 C1058.0,237.3 1061.7,236.6 1065.5,236.2 C1069.2,235.7 1072.9,235.4 1076.6,234.8 C1080.4,234.3 1084.1,233.5 1087.8,233.0 C1091.6,232.4 1095.6,232.0 1099.0,231.5 C1102.4,231.0 1105.7,230.6 1108.3,230.2 C1111.0,229.8 1113.4,229.4 1114.9,229.3 C1116.4,229.1 1115.8,229.2 1117.5,229.3 C1119.1,229.4 1122.4,229.4 1124.9,230.0 C1127.4,230.7 1129.3,232.1 1132.4,233.4 C1135.5,234.7 1139.8,236.4 1143.6,238.1 C1147.3,239.7 1151.0,241.2 1154.8,243.1 C1158.5,245.0 1162.2,247.2 1165.9,249.3 C1169.7,251.3 1173.4,253.4 1177.1,255.4 C1180.9,257.4 1184.6,259.3 1188.3,261.4 C1192.1,263.5 1195.8,265.9 1199.5,267.9 C1203.2,269.9 1207.0,271.9 1210.7,273.5 C1214.4,275.1 1218.2,276.2 1221.9,277.2 C1225.6,278.3 1229.3,279.0 1233.1,279.7 C1236.8,280.3 1240.5,281.0 1244.3,281.3 C1248.0,281.7 1252.0,281.9 1255.5,281.9 C1258.9,281.9 1261.7,281.6 1264.8,281.3 C1267.9,281.0 1271.3,280.0 1274.1,280.0 C1276.9,280.1 1279.2,281.1 1281.6,281.5 C1283.9,281.9 1287.0,282.3 1288.1,282.4" fill="none" stroke="#e61616" stroke-width="1.55"/><path d="M0.0,499.3 C0.6,497.8 2.5,492.9 3.7,490.0 C5.0,487.2 6.2,484.2 7.5,482.2 C8.7,480.2 9.8,478.5 11.2,477.9 C12.6,477.3 14.3,479.0 15.9,478.8 C17.4,478.7 19.1,478.2 20.5,477.0 C21.9,475.7 22.7,473.6 24.2,471.4 C25.8,469.2 27.7,466.2 29.8,463.9 C32.0,461.6 34.8,459.7 37.3,457.4 C39.8,455.1 42.6,452.9 44.8,449.9 C46.9,447.0 48.5,442.8 50.3,439.7 C52.2,436.6 54.1,434.1 55.9,431.3 C57.8,428.5 59.8,425.3 61.5,422.9 C63.2,420.5 64.6,418.0 66.2,416.9 C67.8,415.8 69.5,415.1 70.9,416.4 C72.3,417.7 73.0,420.6 74.6,424.8 C76.1,429.0 78.3,436.7 80.2,441.5 C82.1,446.4 83.9,450.9 85.8,453.7 C87.6,456.5 89.5,456.8 91.4,458.3 C93.2,459.9 94.8,460.0 97.0,463.0 C99.1,465.9 101.9,472.2 104.4,476.0 C106.9,479.9 109.7,484.1 111.9,486.3 C114.1,488.5 115.6,488.5 117.5,489.1 C119.3,489.7 121.2,489.1 123.1,490.0 C124.9,491.0 126.8,494.5 128.7,494.7 C130.5,494.8 132.1,492.8 134.3,491.0 C136.4,489.1 139.5,484.1 141.7,483.5 C143.9,482.9 145.5,486.1 147.3,487.2 C149.2,488.3 151.4,489.3 152.9,490.0 C154.5,490.7 155.4,491.8 156.6,491.5 C157.9,491.2 158.8,490.9 160.4,488.2 C161.9,485.4 164.4,478.4 166.0,475.1 C167.5,471.8 168.2,470.8 169.8,468.2 C171.5,465.5 173.7,462.7 175.6,459.3 C177.5,456.0 179.3,452.8 181.2,448.2 C183.1,443.5 184.9,436.7 186.8,431.4 C188.6,426.1 190.5,421.4 192.4,416.5 C194.2,411.5 196.1,406.4 198.0,401.5 C199.8,396.7 201.7,392.4 203.6,387.6 C205.4,382.7 207.5,377.2 209.2,372.6 C210.9,368.0 212.3,363.4 213.8,360.0 C215.4,356.7 216.8,356.2 218.5,352.4 C220.2,348.6 222.2,342.3 224.1,337.5 C225.9,332.7 228.0,327.2 229.7,323.5 C231.4,319.8 232.9,317.4 234.3,315.1 C235.7,312.8 236.7,311.4 238.1,309.5 C239.5,307.6 241.3,305.6 242.7,303.9 C244.1,302.2 245.1,301.4 246.5,299.3 C247.9,297.1 249.6,293.0 251.1,290.9 C252.7,288.7 254.5,287.4 255.8,286.6 C257.0,285.8 257.6,285.3 258.6,286.2 C259.5,287.1 260.3,290.9 261.4,291.8 C262.5,292.7 263.6,292.1 265.1,291.8 C266.7,291.5 268.7,290.6 270.7,289.9 C272.7,289.2 275.4,287.4 277.2,287.5 C279.1,287.7 280.3,289.6 281.9,290.9 C283.4,292.1 285.0,294.8 286.6,295.2 C288.1,295.5 289.3,293.6 291.2,293.1 C293.1,292.6 295.9,293.5 297.7,292.4 C299.6,291.2 300.7,289.2 302.4,286.2 C304.1,283.2 306.4,276.7 308.0,274.1 C309.5,271.4 310.5,270.7 311.7,270.3 C313.0,270.0 313.9,270.0 315.5,272.2 C317.0,274.4 318.9,279.1 321.0,283.4 C323.2,287.8 326.3,293.7 328.5,298.3 C330.7,303.0 332.2,307.3 334.1,311.4 C336.0,315.4 337.8,319.0 339.7,322.6 C341.6,326.1 343.0,331.1 345.3,332.8 C347.6,334.5 351.7,332.2 353.7,332.8 C355.7,333.4 356.0,333.9 357.4,336.6 C358.8,339.2 360.6,344.8 362.1,348.7 C363.5,352.6 365.1,356.8 366.2,360.0 C367.3,363.3 367.6,364.5 368.6,368.0 C369.6,371.5 371.1,376.7 372.3,381.0 C373.6,385.4 374.8,390.8 376.1,394.1 C377.3,397.3 378.5,399.3 379.8,400.6 C381.0,401.9 382.3,402.5 383.5,401.9 C384.8,401.3 386.0,397.9 387.2,396.9 C388.5,395.8 389.6,395.6 391.0,395.6 C392.4,395.6 393.9,396.3 395.6,396.9 C397.4,397.5 399.5,398.7 401.2,399.3 C403.0,399.9 404.8,401.0 406.2,400.7 C407.7,400.5 408.7,399.0 410.0,397.8 C411.3,396.6 412.5,393.4 414.0,393.4 C415.4,393.4 416.6,396.0 418.6,398.1 C420.7,400.1 423.6,403.0 426.1,405.5 C428.6,408.0 431.1,410.8 433.6,413.0 C436.1,415.2 438.5,417.2 441.0,418.6 C443.5,419.9 446.3,421.2 448.5,421.0 C450.7,420.8 452.2,419.8 454.1,417.6 C455.9,415.5 457.8,411.0 459.7,408.3 C461.5,405.7 463.6,403.0 465.3,401.8 C467.0,400.6 468.4,400.1 469.9,401.2 C471.5,402.3 472.9,405.0 474.6,408.3 C476.3,411.7 478.3,417.3 480.2,421.4 C482.1,425.4 484.2,430.3 485.8,432.6 C487.3,434.8 488.3,435.3 489.5,435.0 C490.8,434.7 491.7,433.9 493.2,430.7 C494.8,427.5 497.0,420.3 498.8,415.8 C500.7,411.3 502.3,408.3 504.4,403.7 C506.6,399.0 509.4,393.4 511.9,387.8 C514.4,382.2 516.9,375.8 519.3,370.1 C521.8,364.3 524.8,357.4 526.8,353.3 C528.8,349.3 529.6,347.9 531.5,345.9 C533.3,343.8 535.7,343.7 538.0,341.2 C540.3,338.7 543.2,332.8 545.5,330.9 C547.7,329.1 549.2,329.2 551.3,329.9 C553.3,330.6 555.8,334.2 557.8,334.9 C559.8,335.7 561.7,334.9 563.4,334.6 C565.1,334.3 566.4,332.7 568.1,333.1 C569.8,333.4 571.6,334.6 573.7,336.8 C575.7,339.0 578.5,344.1 580.2,346.1 C581.9,348.2 582.4,348.9 583.9,348.9 C585.5,348.9 587.3,347.8 589.5,346.1 C591.7,344.4 594.5,341.2 597.0,338.7 C599.5,336.2 601.9,333.5 604.4,331.2 C606.9,328.9 609.4,326.9 611.9,324.7 C614.4,322.5 616.9,321.1 619.3,318.2 C621.8,315.2 624.6,310.2 626.8,307.0 C629.0,303.7 630.5,300.4 632.4,298.6 C634.3,296.7 636.3,296.1 638.0,295.8 C639.7,295.5 641.3,296.4 642.7,296.7 C644.1,297.0 644.7,298.4 646.4,297.6 C648.1,296.9 650.6,293.6 652.9,292.1 C655.2,290.5 658.2,290.2 660.4,288.3 C662.5,286.5 664.1,284.0 666.0,280.9 C667.8,277.8 669.7,272.9 671.6,269.7 C673.4,266.4 675.3,263.1 677.2,261.3 C679.0,259.4 680.6,258.8 682.8,258.5 C684.9,258.2 687.7,259.4 690.2,259.4 C692.7,259.4 695.2,259.4 697.7,258.5 C700.2,257.6 702.6,255.5 705.1,253.8 C707.6,252.1 710.4,250.6 712.6,248.2 C714.7,245.8 716.1,242.3 718.0,239.5 C719.8,236.7 721.7,234.4 723.6,231.5 C725.4,228.6 727.3,225.1 729.2,222.1 C731.0,219.2 732.9,216.1 734.8,213.8 C736.6,211.4 738.6,209.5 740.3,208.2 C742.1,206.9 743.5,205.5 745.0,205.9 C746.6,206.4 748.3,209.7 749.7,211.0 C751.1,212.2 752.0,213.8 753.4,213.4 C754.8,212.9 756.2,210.7 758.1,208.2 C759.9,205.6 762.6,201.3 764.6,197.9 C766.6,194.5 768.3,191.8 770.2,187.6 C772.1,183.4 773.9,177.4 775.8,172.7 C777.6,168.1 779.5,163.4 781.4,159.7 C783.2,155.9 785.1,152.7 787.0,150.3 C788.8,148.0 791.0,145.7 792.6,145.7 C794.1,145.7 794.7,146.5 796.3,150.3 C797.8,154.2 800.0,163.6 801.9,169.0 C803.8,174.4 805.6,178.0 807.5,183.0 C809.3,188.0 811.2,193.7 813.1,198.8 C814.9,204.0 816.8,209.7 818.7,213.8 C820.5,217.8 822.4,220.8 824.3,223.1 C826.1,225.3 828.0,226.6 829.9,227.2 C831.7,227.8 834.2,226.8 835.5,226.8 C836.7,226.8 836.6,226.1 837.5,227.3 C838.4,228.5 840.0,232.6 841.0,234.3 C842.1,235.9 842.7,235.9 843.9,237.4 C845.2,238.9 847.1,241.5 848.7,243.1 C850.2,244.8 851.8,247.3 853.3,247.4 C854.9,247.6 856.3,246.2 858.0,244.1 C859.7,242.0 861.7,237.9 863.6,234.8 C865.5,231.6 867.3,229.5 869.2,225.4 C871.0,221.4 872.9,215.2 874.8,210.5 C876.6,205.9 878.7,200.7 880.4,197.5 C882.1,194.2 883.8,192.2 885.0,190.9 C886.3,189.7 886.6,189.5 887.8,190.0 C889.1,190.5 890.9,192.5 892.5,193.7 C894.0,194.9 895.6,196.3 897.2,197.1 C898.7,197.9 900.3,196.6 901.8,198.4 C903.4,200.2 904.8,204.8 906.5,207.7 C908.2,210.7 910.4,214.3 912.1,216.1 C913.8,217.9 915.2,218.3 916.7,218.3 C918.3,218.3 919.9,216.5 921.4,216.1 C922.9,215.7 924.0,215.3 925.6,216.2 C927.2,217.1 929.5,220.4 931.2,221.8 C932.9,223.2 934.1,224.7 935.9,224.6 C937.6,224.4 939.4,223.3 941.4,220.9 C943.5,218.4 946.1,212.4 948.0,209.7 C949.8,206.9 951.1,205.3 952.6,204.5 C954.2,203.6 955.6,203.7 957.3,204.5 C959.0,205.2 960.9,206.3 962.9,208.7 C964.9,211.2 967.6,215.1 969.4,219.0 C971.3,222.9 972.7,228.5 974.1,232.1 C975.5,235.6 976.3,238.6 977.8,240.4 C979.4,242.3 981.4,242.3 983.4,243.2 C985.4,244.2 988.1,245.3 989.9,246.0 C991.8,246.8 992.9,248.4 994.6,247.9 C996.3,247.4 998.3,245.6 1000.2,243.2 C1002.1,240.9 1003.9,237.0 1005.8,233.9 C1007.6,230.8 1009.7,227.4 1011.4,224.6 C1013.1,221.8 1014.3,218.5 1016.0,217.1 C1017.7,215.7 1019.8,216.3 1021.6,216.2 C1023.5,216.1 1025.5,216.0 1027.2,216.8 C1028.9,217.5 1030.2,219.7 1031.9,220.9 C1033.6,222.0 1035.6,222.3 1037.5,223.7 C1039.3,225.1 1041.2,228.2 1043.1,229.3 C1044.9,230.3 1046.8,230.1 1048.7,230.2 C1050.5,230.3 1052.4,229.5 1054.3,229.8 C1056.1,230.1 1058.0,231.7 1059.9,232.1 C1061.7,232.4 1063.6,233.3 1065.5,232.1 C1067.3,230.8 1069.0,227.3 1071.0,224.6 C1073.1,221.9 1075.4,217.4 1077.6,215.6 C1079.8,213.9 1082.1,214.9 1084.1,214.3 C1086.1,213.8 1087.8,213.3 1089.7,212.5 C1091.6,211.6 1093.4,210.0 1095.3,209.3 C1097.2,208.6 1099.0,209.5 1100.9,208.2 C1102.8,206.8 1104.8,202.7 1106.5,201.3 C1108.2,199.8 1109.7,199.6 1111.1,199.4 C1112.5,199.2 1113.5,198.9 1114.9,200.0 C1116.3,201.1 1117.8,202.8 1119.5,205.9 C1121.2,209.1 1123.3,214.3 1125.1,219.0 C1127.0,223.7 1128.9,228.0 1130.7,233.9 C1132.6,239.8 1134.5,247.6 1136.3,254.4 C1138.2,261.3 1140.0,269.0 1141.9,274.9 C1143.8,280.9 1145.8,286.4 1147.5,290.0 C1149.2,293.6 1150.4,295.4 1152.0,296.5 C1153.5,297.7 1155.1,296.2 1156.6,297.1 C1158.2,298.0 1159.6,299.7 1161.3,302.1 C1163.0,304.5 1165.0,307.9 1166.9,311.4 C1168.7,315.0 1170.6,320.0 1172.5,323.6 C1174.3,327.1 1176.2,330.2 1178.1,332.9 C1179.9,335.6 1181.8,338.3 1183.7,340.0 C1185.5,341.7 1187.4,342.4 1189.3,343.1 C1191.1,343.9 1193.3,343.1 1194.8,344.5 C1196.4,345.9 1197.3,348.5 1198.6,351.5 C1199.8,354.6 1200.9,359.6 1202.3,362.7 C1203.7,365.8 1205.4,368.4 1207.0,370.2 C1208.5,372.0 1209.9,372.9 1211.6,373.5 C1213.3,374.2 1215.5,375.5 1217.2,374.3 C1218.9,373.1 1220.2,369.9 1221.9,366.5 C1223.6,363.0 1225.6,357.8 1227.5,353.4 C1229.3,349.1 1231.2,344.2 1233.1,340.3 C1234.9,336.5 1236.8,332.6 1238.7,330.1 C1240.5,327.6 1242.4,326.6 1244.3,325.4 C1246.1,324.3 1248.0,324.4 1249.9,323.2 C1251.7,322.0 1253.6,320.1 1255.5,318.0 C1257.3,315.8 1259.3,312.5 1261.0,310.1 C1262.8,307.8 1264.2,306.4 1265.7,303.8 C1267.3,301.3 1268.7,298.7 1270.4,294.9 C1272.1,291.2 1274.4,283.1 1276.0,281.4 C1277.5,279.7 1278.5,282.9 1279.7,284.7 C1280.9,286.5 1282.2,289.8 1283.4,292.1 C1284.7,294.5 1285.8,297.4 1287.2,298.7 C1288.6,300.0 1291.0,299.8 1291.8,300.0" fill="none" stroke="#1c1cdc" stroke-width="1.5"/><line x1="1105" y1="180.6" x2="1322.5" y2="246.3" stroke="#e81414" stroke-width="2.7"/><rect x="1272.5" y="251.5" width="74" height="20" fill="none" stroke="#e01212" stroke-width="3"/><g stroke="#1f8a2c" stroke-width="1.8" fill="none"><line x1="1308" y1="245" x2="1308" y2="300.5"/><polyline points="1304,249 1308,244.6 1312,249"/><line x1="1304" y1="300.5" x2="1312" y2="300.5"/></g><text x="1313" y="282" fill="#2e8b57">2,48%(3,</text></g><text x="27.5" y="590.5" fill="#2020d0" style="letter-spacing:-0.1px">MACDH 20; 5; 5</text><path d="M109.5,584.5 L115.5,584.5 L112.5,588 Z" fill="#2020d0"/><text x="125.5" y="590.5" fill="#2a7a3a" style="letter-spacing:-0.1px">MACD 20; 5; 5</text><text x="27.5" y="673" fill="#2a6a4a" style="letter-spacing:-0.1px">PKS 20; 5; 5</text><path d="M90.5,667.5 L96.5,667.5 L93.5,671 Z" fill="#2a6a4a"/><g clip-path="url(#c2)"><g fill="#0a0ac4" shape-rendering="crispEdges"><rect x="0" y="615" width="2" height="3"/><rect x="4" y="615" width="2" height="3"/><rect x="8" y="618" width="2" height="2"/><rect x="12" y="618" width="2" height="3"/><rect x="16" y="618" width="2" height="3"/><rect x="20" y="618" width="2" height="2"/><rect x="24" y="618" width="2" height="1"/><rect x="32" y="618" width="2" height="1"/><rect x="39" y="617" width="2" height="1"/><rect x="43" y="617" width="2" height="1"/><rect x="47" y="617" width="2" height="1"/><rect x="51" y="617" width="2" height="1"/><rect x="63" y="618" width="2" height="1"/><rect x="67" y="618" width="2" height="3"/><rect x="71" y="618" width="2" height="9"/><rect x="74" y="618" width="2" height="12"/><rect x="78" y="618" width="2" height="13"/><rect x="82" y="618" width="2" height="9"/><rect x="86" y="618" width="2" height="8"/><rect x="90" y="618" width="2" height="5"/><rect x="94" y="618" width="2" height="5"/><rect x="98" y="618" width="2" height="5"/><rect x="102" y="618" width="2" height="5"/><rect x="106" y="618" width="2" height="4"/><rect x="110" y="618" width="2" height="3"/><rect x="113" y="618" width="2" height="2"/><rect x="117" y="617" width="2" height="1"/><rect x="121" y="617" width="2" height="1"/><rect x="125" y="617" width="2" height="1"/><rect x="129" y="615" width="2" height="3"/><rect x="133" y="615" width="2" height="3"/><rect x="137" y="613" width="2" height="5"/><rect x="141" y="616" width="2" height="2"/><rect x="149" y="618" width="2" height="1"/><rect x="156" y="616" width="2" height="2"/><rect x="160" y="613" width="2" height="5"/><rect x="164" y="611" width="2" height="7"/><rect x="168" y="612" width="2" height="6"/><rect x="172" y="613" width="2" height="5"/><rect x="176" y="615" width="2" height="3"/><rect x="180" y="613" width="2" height="5"/><rect x="184" y="610" width="2" height="8"/><rect x="188" y="612" width="2" height="6"/><rect x="191" y="611" width="2" height="7"/><rect x="195" y="612" width="2" height="6"/><rect x="199" y="612" width="2" height="6"/><rect x="203" y="613" width="2" height="5"/><rect x="207" y="615" width="2" height="3"/><rect x="211" y="615" width="2" height="3"/><rect x="215" y="617" width="2" height="1"/><rect x="219" y="616" width="2" height="2"/><rect x="223" y="616" width="2" height="2"/><rect x="227" y="617" width="2" height="1"/><rect x="234" y="618" width="2" height="2"/><rect x="238" y="618" width="2" height="2"/><rect x="242" y="618" width="2" height="2"/><rect x="246" y="618" width="2" height="1"/><rect x="250" y="618" width="2" height="2"/><rect x="254" y="618" width="2" height="4"/><rect x="258" y="618" width="2" height="9"/><rect x="262" y="618" width="2" height="6"/><rect x="266" y="618" width="2" height="5"/><rect x="269" y="618" width="2" height="4"/><rect x="273" y="618" width="2" height="3"/><rect x="277" y="618" width="2" height="4"/><rect x="281" y="618" width="2" height="7"/><rect x="285" y="618" width="2" height="3"/><rect x="289" y="618" width="2" height="3"/><rect x="293" y="618" width="2" height="3"/><rect x="301" y="615" width="2" height="3"/><rect x="305" y="613" width="2" height="5"/><rect x="308" y="617" width="2" height="1"/><rect x="312" y="618" width="2" height="3"/><rect x="316" y="618" width="2" height="7"/><rect x="320" y="618" width="2" height="8"/><rect x="324" y="618" width="2" height="9"/><rect x="328" y="618" width="2" height="8"/><rect x="332" y="618" width="2" height="8"/><rect x="336" y="618" width="2" height="9"/><rect x="340" y="618" width="2" height="7"/><rect x="344" y="618" width="2" height="3"/><rect x="347" y="617" width="2" height="1"/><rect x="351" y="617" width="2" height="1"/><rect x="355" y="618" width="2" height="2"/><rect x="359" y="618" width="2" height="4"/><rect x="363" y="618" width="2" height="6"/><rect x="367" y="618" width="2" height="8"/><rect x="371" y="618" width="2" height="10"/><rect x="375" y="618" width="2" height="5"/><rect x="383" y="612" width="2" height="6"/><rect x="386" y="612" width="2" height="6"/><rect x="390" y="613" width="2" height="5"/><rect x="394" y="614" width="2" height="4"/><rect x="398" y="615" width="2" height="3"/><rect x="402" y="616" width="2" height="2"/><rect x="406" y="613" width="2" height="5"/><rect x="410" y="612" width="2" height="6"/><rect x="414" y="616" width="2" height="2"/><rect x="418" y="617" width="2" height="1"/><rect x="422" y="618" width="2" height="1"/><rect x="425" y="618" width="2" height="1"/><rect x="429" y="618" width="2" height="3"/><rect x="433" y="618" width="2" height="1"/><rect x="437" y="618" width="2" height="1"/><rect x="441" y="617" width="2" height="1"/><rect x="445" y="617" width="2" height="1"/><rect x="449" y="615" width="2" height="3"/><rect x="453" y="613" width="2" height="5"/><rect x="457" y="611" width="2" height="7"/><rect x="461" y="613" width="2" height="5"/><rect x="464" y="615" width="2" height="3"/><rect x="468" y="618" width="2" height="1"/><rect x="472" y="618" width="2" height="4"/><rect x="476" y="618" width="2" height="6"/><rect x="480" y="618" width="2" height="7"/><rect x="484" y="618" width="2" height="5"/><rect x="488" y="618" width="2" height="1"/><rect x="492" y="612" width="2" height="6"/><rect x="496" y="610" width="2" height="8"/><rect x="500" y="609" width="2" height="9"/><rect x="503" y="609" width="2" height="9"/><rect x="507" y="610" width="2" height="8"/><rect x="511" y="610" width="2" height="8"/><rect x="515" y="610" width="2" height="8"/><rect x="519" y="611" width="2" height="7"/><rect x="523" y="613" width="2" height="5"/><rect x="527" y="614" width="2" height="4"/><rect x="531" y="617" width="2" height="1"/><rect x="535" y="618" width="2" height="1"/><rect x="539" y="617" width="2" height="1"/><rect x="542" y="617" width="2" height="1"/><rect x="546" y="618" width="2" height="3"/><rect x="550" y="618" width="2" height="5"/><rect x="554" y="618" width="2" height="7"/><rect x="558" y="618" width="2" height="5"/><rect x="562" y="618" width="2" height="2"/><rect x="566" y="618" width="2" height="4"/><rect x="570" y="618" width="2" height="4"/><rect x="574" y="618" width="2" height="6"/><rect x="578" y="618" width="2" height="6"/><rect x="581" y="618" width="2" height="2"/><rect x="585" y="617" width="2" height="1"/><rect x="589" y="616" width="2" height="2"/><rect x="593" y="615" width="2" height="3"/><rect x="597" y="615" width="2" height="3"/><rect x="601" y="614" width="2" height="4"/><rect x="605" y="615" width="2" height="3"/><rect x="609" y="617" width="2" height="1"/><rect x="613" y="617" width="2" height="1"/><rect x="617" y="617" width="2" height="1"/><rect x="620" y="614" width="2" height="4"/><rect x="624" y="614" width="2" height="4"/><rect x="628" y="615" width="2" height="3"/><rect x="636" y="618" width="2" height="1"/><rect x="640" y="618" width="2" height="4"/><rect x="644" y="618" width="2" height="3"/><rect x="648" y="618" width="2" height="1"/><rect x="656" y="618" width="2" height="2"/><rect x="659" y="617" width="2" height="1"/><rect x="663" y="615" width="2" height="3"/><rect x="667" y="613" width="2" height="5"/><rect x="671" y="615" width="2" height="3"/><rect x="675" y="617" width="2" height="1"/><rect x="679" y="618" width="2" height="1"/><rect x="683" y="618" width="2" height="3"/><rect x="687" y="618" width="2" height="3"/><rect x="691" y="618" width="2" height="3"/><rect x="695" y="618" width="2" height="3"/><rect x="698" y="618" width="2" height="1"/><rect x="714" y="617" width="2" height="1"/><rect x="718" y="617" width="2" height="1"/><rect x="722" y="615" width="2" height="3"/><rect x="726" y="615" width="2" height="3"/><rect x="730" y="615" width="2" height="3"/><rect x="734" y="617" width="2" height="1"/><rect x="737" y="617" width="2" height="1"/><rect x="741" y="618" width="2" height="1"/><rect x="745" y="618" width="2" height="6"/><rect x="749" y="618" width="2" height="6"/><rect x="753" y="618" width="2" height="1"/><rect x="757" y="617" width="2" height="1"/><rect x="761" y="617" width="2" height="1"/><rect x="765" y="615" width="2" height="3"/><rect x="769" y="613" width="2" height="5"/><rect x="773" y="613" width="2" height="5"/><rect x="776" y="614" width="2" height="4"/><rect x="780" y="615" width="2" height="3"/><rect x="784" y="617" width="2" height="1"/><rect x="792" y="618" width="2" height="7"/><rect x="796" y="618" width="2" height="13"/><rect x="800" y="618" width="2" height="14"/><rect x="804" y="618" width="2" height="11"/><rect x="808" y="618" width="2" height="12"/><rect x="812" y="618" width="2" height="10"/><rect x="815" y="618" width="2" height="8"/><rect x="819" y="618" width="2" height="7"/><rect x="823" y="618" width="2" height="4"/><rect x="827" y="618" width="2" height="1"/><rect x="831" y="616" width="2" height="2"/><rect x="839" y="618" width="2" height="3"/><rect x="843" y="618" width="2" height="2"/><rect x="847" y="618" width="2" height="1"/><rect x="851" y="617" width="2" height="1"/><rect x="854" y="614" width="2" height="4"/><rect x="858" y="610" width="2" height="8"/><rect x="862" y="611" width="2" height="7"/><rect x="866" y="610" width="2" height="8"/><rect x="870" y="607" width="2" height="11"/><rect x="874" y="610" width="2" height="8"/><rect x="878" y="610" width="2" height="8"/><rect x="882" y="613" width="2" height="5"/><rect x="886" y="617" width="2" height="1"/><rect x="890" y="618" width="2" height="4"/><rect x="893" y="618" width="2" height="5"/><rect x="897" y="618" width="2" height="4"/><rect x="901" y="618" width="2" height="8"/><rect x="905" y="618" width="2" height="8"/><rect x="909" y="618" width="2" height="4"/><rect x="913" y="618" width="2" height="3"/><rect x="917" y="618" width="2" height="1"/><rect x="921" y="617" width="2" height="1"/><rect x="925" y="618" width="2" height="1"/><rect x="929" y="618" width="2" height="3"/><rect x="932" y="618" width="2" height="1"/><rect x="936" y="617" width="2" height="1"/><rect x="940" y="615" width="2" height="3"/><rect x="944" y="614" width="2" height="4"/><rect x="948" y="613" width="2" height="5"/><rect x="952" y="615" width="2" height="3"/><rect x="956" y="618" width="2" height="1"/><rect x="960" y="618" width="2" height="1"/><rect x="964" y="618" width="2" height="3"/><rect x="968" y="618" width="2" height="8"/><rect x="971" y="618" width="2" height="9"/><rect x="975" y="618" width="2" height="6"/><rect x="979" y="618" width="2" height="3"/><rect x="983" y="618" width="2" height="1"/><rect x="991" y="617" width="2" height="1"/><rect x="995" y="616" width="2" height="2"/><rect x="999" y="612" width="2" height="6"/><rect x="1003" y="611" width="2" height="7"/><rect x="1007" y="612" width="2" height="6"/><rect x="1010" y="610" width="2" height="8"/><rect x="1014" y="614" width="2" height="4"/><rect x="1018" y="617" width="2" height="1"/><rect x="1026" y="618" width="2" height="2"/><rect x="1030" y="618" width="2" height="3"/><rect x="1034" y="618" width="2" height="1"/><rect x="1038" y="618" width="2" height="4"/><rect x="1042" y="618" width="2" height="1"/><rect x="1046" y="618" width="2" height="2"/><rect x="1053" y="618" width="2" height="1"/><rect x="1057" y="618" width="2" height="1"/><rect x="1061" y="617" width="2" height="1"/><rect x="1065" y="615" width="2" height="3"/><rect x="1069" y="614" width="2" height="4"/><rect x="1073" y="615" width="2" height="3"/><rect x="1077" y="617" width="2" height="1"/><rect x="1081" y="617" width="2" height="1"/><rect x="1088" y="618" width="2" height="1"/><rect x="1092" y="618" width="2" height="1"/><rect x="1100" y="617" width="2" height="1"/><rect x="1104" y="617" width="2" height="1"/><rect x="1112" y="618" width="2" height="2"/><rect x="1116" y="618" width="2" height="5"/><rect x="1120" y="618" width="2" height="6"/><rect x="1124" y="618" width="2" height="10"/><rect x="1127" y="618" width="2" height="10"/><rect x="1131" y="618" width="2" height="11"/><rect x="1135" y="618" width="2" height="13"/><rect x="1139" y="618" width="2" height="12"/><rect x="1143" y="618" width="2" height="9"/><rect x="1147" y="618" width="2" height="4"/><rect x="1151" y="617" width="2" height="1"/><rect x="1155" y="617" width="2" height="1"/><rect x="1159" y="617" width="2" height="1"/><rect x="1166" y="618" width="2" height="1"/><rect x="1170" y="618" width="2" height="3"/><rect x="1174" y="618" width="2" height="2"/><rect x="1178" y="618" width="2" height="1"/><rect x="1182" y="617" width="2" height="1"/><rect x="1186" y="615" width="2" height="3"/><rect x="1190" y="615" width="2" height="3"/><rect x="1194" y="617" width="2" height="1"/><rect x="1198" y="618" width="2" height="4"/><rect x="1202" y="618" width="2" height="3"/><rect x="1209" y="616" width="2" height="2"/><rect x="1213" y="615" width="2" height="3"/><rect x="1217" y="610" width="2" height="8"/><rect x="1221" y="608" width="2" height="10"/><rect x="1225" y="606" width="2" height="12"/><rect x="1229" y="607" width="2" height="11"/><rect x="1233" y="608" width="2" height="10"/><rect x="1237" y="613" width="2" height="5"/><rect x="1241" y="614" width="2" height="4"/><rect x="1244" y="617" width="2" height="1"/><rect x="1248" y="617" width="2" height="1"/><rect x="1252" y="616" width="2" height="2"/><rect x="1256" y="616" width="2" height="2"/><rect x="1260" y="617" width="2" height="1"/><rect x="1264" y="617" width="2" height="1"/><rect x="1268" y="612" width="2" height="6"/><rect x="1272" y="612" width="2" height="6"/><rect x="1276" y="618" width="2" height="1"/><rect x="1280" y="618" width="2" height="8"/><rect x="1283" y="618" width="2" height="8"/><rect x="1287" y="618" width="2" height="6"/></g><path d="M0.0,595.0 C0.8,594.5 3.4,592.5 5.1,592.1 C6.8,591.7 8.2,592.2 10.2,592.6 C12.2,593.1 14.1,594.2 17.0,594.7 C19.8,595.2 23.8,595.5 27.2,595.5 C30.6,595.6 33.9,595.4 37.3,595.0 C40.7,594.6 44.1,593.4 47.5,593.0 C50.9,592.5 54.6,592.5 57.7,592.5 C60.8,592.5 63.9,592.0 66.2,593.0 C68.5,593.9 69.6,595.8 71.3,598.1 C73.0,600.3 74.7,603.9 76.4,606.6 C78.1,609.2 79.5,611.8 81.5,614.2 C83.5,616.6 85.7,619.0 88.3,621.0 C90.8,623.0 93.9,624.7 96.7,626.1 C99.6,627.5 102.7,628.5 105.2,629.5 C107.8,630.5 109.8,631.7 112.0,632.0 C114.3,632.3 116.3,631.4 118.8,631.2 C121.4,630.9 124.5,631.2 127.3,630.3 C130.1,629.4 133.2,626.7 135.8,625.6 C138.3,624.4 140.3,623.8 142.6,623.5 C144.8,623.3 147.4,624.2 149.4,624.0 C151.3,623.9 152.5,623.9 154.5,622.7 C156.4,621.5 158.7,618.7 161.2,616.7 C163.8,614.8 166.9,612.6 169.7,610.8 C172.6,609.0 175.4,607.7 178.2,605.7 C181.0,603.7 183.9,601.2 186.7,598.9 C189.5,596.7 192.4,594.4 195.2,592.1 C198.0,589.9 200.8,587.3 203.7,585.3 C206.5,583.4 209.6,581.5 212.2,580.2 C214.7,579.0 216.7,578.6 219.0,578.0 C221.2,577.5 223.9,577.0 225.7,576.8 C227.6,576.7 228.7,576.6 230.0,576.8 C231.3,577.1 231.7,578.0 233.4,578.5 C235.1,579.1 237.9,579.7 240.2,580.2 C242.4,580.8 244.7,581.1 247.0,581.9 C249.2,582.8 251.5,583.8 253.8,585.3 C256.0,586.9 258.3,589.6 260.6,591.3 C262.8,593.0 265.1,594.4 267.3,595.5 C269.6,596.7 271.9,596.8 274.1,598.1 C276.4,599.3 278.7,601.7 280.9,603.2 C283.2,604.6 285.4,605.8 287.7,606.6 C290.0,607.3 292.2,607.5 294.5,607.4 C296.8,607.3 299.3,606.4 301.3,605.7 C303.3,605.0 304.8,603.7 306.4,603.2 C307.9,602.6 308.9,601.7 310.6,602.3 C312.3,602.9 314.4,604.4 316.6,606.6 C318.7,608.7 321.1,612.4 323.4,615.0 C325.6,617.7 327.9,620.3 330.1,622.7 C332.4,625.1 334.7,627.6 336.9,629.5 C339.2,631.3 341.5,633.3 343.7,633.7 C346.0,634.1 348.5,631.9 350.5,632.0 C352.5,632.2 353.6,633.1 355.6,634.6 C357.6,636.0 360.1,638.4 362.4,640.5 C364.7,642.6 367.1,645.6 369.2,647.3 C371.3,648.9 373.4,649.8 375.1,650.3 C376.8,650.9 377.8,651.3 379.4,650.7 C380.9,650.0 382.5,647.9 384.5,646.4 C386.4,645.0 389.0,643.5 391.2,642.2 C393.5,640.9 395.8,639.9 398.0,638.8 C400.3,637.7 402.6,636.7 404.8,635.4 C407.1,634.1 409.3,632.2 411.6,631.2 C413.9,630.1 416.1,629.2 418.4,629.0 C420.7,628.7 422.9,629.1 425.2,629.5 C427.5,629.8 429.7,630.7 432.0,631.2 C434.2,631.7 436.5,632.4 438.8,632.5 C441.0,632.6 443.3,632.5 445.6,631.7 C447.8,630.9 450.0,629.3 452.3,627.8 C454.7,626.2 457.4,623.8 459.6,622.4 C461.7,621.1 463.3,620.0 465.1,619.8 C466.9,619.6 468.5,619.9 470.2,621.0 C471.9,622.0 473.6,624.6 475.3,626.1 C477.0,627.6 478.7,629.1 480.4,630.0 C482.1,630.8 483.8,631.4 485.5,631.2 C487.2,630.9 488.9,630.0 490.6,628.6 C492.2,627.2 493.7,624.9 495.6,622.7 C497.6,620.4 500.2,617.6 502.4,615.0 C504.7,612.5 507.0,609.8 509.2,607.4 C511.5,605.0 513.7,602.5 516.0,600.6 C518.3,598.7 520.8,597.2 522.8,596.0 C524.8,594.9 525.9,594.0 527.9,593.8 C529.9,593.6 532.4,594.8 534.7,594.7 C536.9,594.5 539.5,593.0 541.5,593.0 C543.5,593.0 544.9,593.7 546.6,594.7 C548.3,595.7 549.7,597.5 551.7,598.9 C553.6,600.3 556.2,601.9 558.4,603.2 C560.7,604.4 563.0,604.9 565.2,606.2 C567.5,607.5 569.8,609.3 572.0,610.8 C574.3,612.3 576.7,614.0 578.8,615.0 C580.9,616.0 582.8,616.7 584.8,616.7 C586.7,616.8 588.6,616.1 590.7,615.4 C592.8,614.7 595.2,613.4 597.5,612.5 C599.7,611.6 602.0,610.7 604.3,609.9 C606.5,609.2 608.8,608.9 611.1,608.2 C613.3,607.6 615.6,607.1 617.9,606.2 C620.1,605.3 622.4,603.8 624.6,602.8 C626.9,601.9 629.2,600.7 631.4,600.6 C633.7,600.5 636.0,601.6 638.2,602.3 C640.5,603.0 642.7,604.4 645.0,604.9 C647.3,605.3 649.7,604.6 651.8,604.9 C653.9,605.1 655.8,606.7 657.7,606.6 C659.7,606.4 661.6,605.1 663.7,604.0 C665.8,602.9 668.3,600.7 670.5,599.8 C672.6,598.8 674.4,598.3 676.4,598.4 C678.4,598.5 680.2,599.5 682.3,600.3 C684.5,601.1 687.2,602.6 689.6,603.3 C692.0,604.1 694.5,604.6 696.8,604.9 C699.1,605.1 701.3,605.0 703.6,604.9 C705.8,604.7 708.1,604.4 710.4,604.0 C712.6,603.6 714.9,603.1 717.2,602.3 C719.4,601.5 721.7,600.3 723.9,599.4 C726.2,598.5 728.5,597.4 730.7,596.9 C733.0,596.4 735.5,596.0 737.5,596.4 C739.5,596.7 740.9,597.8 742.6,598.9 C744.3,600.0 746.0,602.0 747.7,602.8 C749.4,603.7 751.1,604.1 752.8,604.0 C754.5,603.9 755.9,603.0 757.9,602.3 C759.9,601.6 762.4,601.0 764.7,599.8 C766.9,598.6 769.2,596.5 771.5,595.2 C773.7,593.9 776.1,592.8 778.3,592.1 C780.4,591.4 782.4,591.1 784.2,590.9 C786.0,590.7 787.7,590.2 789.3,590.9 C790.8,591.7 792.0,593.3 793.5,595.5 C795.1,597.7 796.9,601.2 798.6,604.0 C800.3,606.8 802.0,609.8 803.7,612.5 C805.4,615.2 807.1,617.7 808.8,620.1 C810.5,622.5 812.2,624.9 813.9,626.9 C815.6,628.9 817.3,630.8 819.0,632.0 C820.7,633.2 822.4,633.8 824.1,634.2 C825.8,634.6 827.5,634.8 829.2,634.6 C830.9,634.3 832.6,632.9 834.3,632.9 C836.0,632.9 837.4,634.1 839.4,634.6 C841.3,635.0 844.2,635.7 846.2,635.7 C848.1,635.8 849.5,635.8 851.2,635.1 C852.9,634.3 854.6,632.7 856.3,631.2 C858.0,629.7 859.7,627.9 861.4,626.1 C863.1,624.2 864.8,622.1 866.5,620.1 C868.2,618.1 869.9,616.2 871.6,614.2 C873.3,612.2 875.0,609.7 876.7,608.2 C878.4,606.7 880.1,605.8 881.8,605.2 C883.5,604.6 885.2,604.1 886.9,604.5 C888.6,604.9 890.3,606.5 892.0,607.4 C893.7,608.3 895.4,608.8 897.1,609.9 C898.8,611.1 900.5,612.6 902.2,614.2 C903.9,615.7 905.6,618.0 907.3,619.3 C909.0,620.6 910.7,621.4 912.3,621.8 C914.0,622.3 916.2,621.9 917.4,621.8 C918.7,621.7 918.7,621.3 920.0,621.3 C921.3,621.3 923.4,621.5 925.1,621.8 C926.8,622.2 928.5,623.4 930.2,623.5 C931.9,623.7 933.6,623.3 935.3,622.7 C937.0,622.1 938.7,620.8 940.4,619.8 C942.1,618.8 943.8,617.6 945.5,616.7 C947.2,615.9 948.9,615.0 950.6,614.7 C952.2,614.4 953.9,614.4 955.6,614.7 C957.3,615.0 959.0,615.5 960.7,616.4 C962.4,617.3 964.1,618.5 965.8,620.1 C967.5,621.7 969.2,624.5 970.9,626.1 C972.6,627.6 974.3,628.7 976.0,629.5 C977.7,630.3 979.1,630.6 981.1,630.8 C983.1,631.0 985.6,630.9 987.9,630.7 C990.2,630.4 992.7,630.4 994.7,629.5 C996.7,628.6 998.1,626.7 999.8,625.2 C1001.5,623.7 1003.2,622.0 1004.9,620.5 C1006.6,618.9 1008.3,617.2 1010.0,615.9 C1011.7,614.6 1013.4,613.2 1015.0,612.5 C1016.7,611.8 1018.4,611.7 1020.1,611.6 C1021.8,611.6 1023.5,611.5 1025.2,612.0 C1026.9,612.5 1028.6,613.8 1030.3,614.7 C1032.0,615.6 1033.7,616.8 1035.4,617.6 C1037.1,618.3 1038.8,618.8 1040.5,619.3 C1042.2,619.8 1043.9,620.3 1045.6,620.5 C1047.3,620.7 1049.0,620.4 1050.7,620.5 C1052.4,620.6 1053.9,620.9 1055.8,621.0 C1057.6,621.1 1059.9,621.5 1061.7,621.0 C1063.6,620.4 1065.1,618.6 1066.8,617.6 C1068.5,616.6 1070.2,615.7 1071.9,615.0 C1073.6,614.3 1075.3,613.8 1077.0,613.3 C1078.7,612.9 1080.3,612.7 1082.1,612.5 C1083.9,612.3 1085.9,612.1 1088.0,612.0 C1090.2,611.8 1092.6,611.9 1094.8,611.6 C1097.1,611.4 1099.6,610.8 1101.6,610.5 C1103.6,610.1 1105.0,609.6 1106.7,609.6 C1108.4,609.7 1110.1,610.0 1111.8,610.8 C1113.5,611.6 1115.5,613.2 1116.9,614.2 C1118.2,615.2 1118.6,615.5 1119.9,616.7 C1121.3,618.0 1123.4,619.8 1125.1,621.8 C1126.8,623.8 1128.5,626.1 1130.2,628.6 C1131.9,631.2 1133.6,634.6 1135.3,637.1 C1137.0,639.6 1138.7,642.0 1140.4,643.9 C1142.1,645.8 1143.8,647.8 1145.5,648.6 C1147.2,649.5 1148.6,649.3 1150.6,649.0 C1152.5,648.7 1155.1,647.4 1157.3,646.9 C1159.6,646.5 1161.9,646.2 1164.1,646.4 C1166.4,646.7 1168.7,648.2 1170.9,648.6 C1173.2,649.1 1175.4,649.6 1177.7,649.3 C1180.0,649.1 1182.2,648.1 1184.5,647.3 C1186.8,646.5 1189.3,644.8 1191.3,644.4 C1193.3,644.0 1194.7,644.3 1196.4,644.7 C1198.1,645.2 1199.8,646.5 1201.5,646.9 C1203.2,647.4 1204.7,647.7 1206.6,647.3 C1208.4,646.9 1210.5,646.2 1212.5,644.7 C1214.5,643.3 1216.6,640.9 1218.4,638.8 C1220.3,636.7 1221.8,634.4 1223.5,632.0 C1225.2,629.6 1226.9,626.8 1228.6,624.4 C1230.3,622.0 1232.0,619.6 1233.7,617.6 C1235.4,615.6 1237.1,613.5 1238.8,612.5 C1240.5,611.4 1242.1,611.7 1243.9,611.3 C1245.7,610.9 1247.9,610.5 1249.8,609.9 C1251.8,609.4 1253.7,608.5 1255.8,607.9 C1257.9,607.3 1260.6,607.0 1262.6,606.2 C1264.6,605.4 1266.1,604.3 1267.7,603.2 C1269.2,602.0 1270.6,600.1 1271.9,599.4 C1273.2,598.7 1274.0,598.3 1275.3,598.9 C1276.6,599.5 1278.1,601.7 1279.5,603.2 C1281.0,604.6 1282.4,606.1 1283.8,607.4 C1285.2,608.7 1287.3,610.2 1288.0,610.8" fill="none" stroke="#1c7a2c" stroke-width="1.6"/><path d="M0.0,590.4 C1.0,590.2 4.0,588.5 5.9,589.2 C7.9,589.9 9.8,593.3 11.9,594.7 C14.0,596.0 16.1,597.1 18.7,597.2 C21.2,597.4 24.0,595.9 27.2,595.5 C30.3,595.1 34.2,595.2 37.3,594.7 C40.5,594.1 43.6,592.7 45.8,592.1 C48.1,591.6 48.9,591.3 50.9,591.3 C52.9,591.3 55.4,591.7 57.7,592.1 C60.0,592.5 62.8,593.0 64.5,593.8 C66.2,594.7 66.6,595.0 67.9,597.2 C69.2,599.5 70.7,603.9 72.1,607.4 C73.6,610.9 74.8,615.5 76.4,618.4 C77.9,621.4 79.5,624.0 81.5,625.2 C83.5,626.4 86.3,625.3 88.3,625.6 C90.2,625.8 91.7,626.1 93.4,626.9 C95.0,627.7 96.7,629.2 98.4,630.3 C100.1,631.4 101.6,632.9 103.5,633.7 C105.5,634.5 108.1,635.5 110.3,635.1 C112.6,634.6 114.6,632.0 117.1,631.2 C119.7,630.4 123.1,631.4 125.6,630.3 C128.1,629.2 130.3,626.2 132.4,624.4 C134.5,622.5 136.6,619.8 138.3,619.3 C140.0,618.8 141.0,620.8 142.6,621.5 C144.1,622.2 146.0,623.2 147.7,623.5 C149.4,623.9 151.1,624.4 152.8,623.5 C154.5,622.7 156.2,620.6 157.9,618.4 C159.5,616.3 161.0,613.1 162.9,610.8 C164.9,608.5 167.5,606.3 169.7,604.9 C172.0,603.4 174.5,603.6 176.5,602.3 C178.5,601.0 179.6,599.3 181.6,597.2 C183.6,595.1 186.1,591.7 188.4,589.6 C190.7,587.5 192.9,586.0 195.2,584.5 C197.5,582.9 199.7,581.3 202.0,580.2 C204.2,579.2 205.7,578.6 208.8,578.0 C211.9,577.5 217.1,576.8 220.7,576.8 C224.2,576.8 227.9,577.6 230.0,578.0 C232.1,578.5 232.0,578.7 233.4,579.4 C234.8,580.1 236.8,581.8 238.5,582.4 C240.2,583.1 241.9,582.6 243.6,583.1 C245.3,583.6 247.0,584.7 248.7,585.3 C250.4,586.0 252.1,585.1 253.8,587.0 C255.5,589.0 257.2,595.4 258.9,597.2 C260.6,599.1 262.2,597.5 263.9,598.1 C265.6,598.6 267.3,600.0 269.0,600.6 C270.7,601.2 272.1,600.0 274.1,601.5 C276.1,602.9 278.7,607.8 280.9,609.1 C283.2,610.4 285.4,609.1 287.7,609.1 C290.0,609.1 292.2,610.1 294.5,609.1 C296.8,608.1 299.3,604.9 301.3,603.2 C303.3,601.5 304.8,598.9 306.4,598.9 C307.9,598.9 308.9,600.6 310.6,603.2 C312.3,605.7 314.6,610.5 316.6,614.2 C318.5,617.9 320.5,623.0 322.5,625.2 C324.5,627.5 326.3,625.9 328.4,627.8 C330.6,629.6 333.3,634.4 335.2,636.3 C337.2,638.1 338.6,639.6 340.3,639.1 C342.0,638.7 343.6,635.0 345.4,633.7 C347.3,632.4 349.5,630.5 351.4,631.2 C353.2,631.9 354.6,635.5 356.4,638.0 C358.3,640.4 360.6,643.0 362.4,645.6 C364.2,648.1 365.8,651.2 367.5,653.2 C369.2,655.2 370.9,657.6 372.6,657.5 C374.3,657.3 376.0,654.8 377.7,652.4 C379.4,650.0 381.1,645.4 382.8,643.0 C384.5,640.6 386.2,639.2 387.9,638.0 C389.5,636.7 391.0,636.3 392.9,635.7 C394.9,635.2 397.8,635.3 399.7,634.6 C401.7,633.8 403.0,632.7 404.8,631.2 C406.7,629.6 408.8,625.9 410.8,625.2 C412.7,624.5 414.9,626.4 416.7,626.9 C418.5,627.5 420.1,627.8 421.8,628.6 C423.5,629.5 425.2,631.2 426.9,632.0 C428.6,632.9 430.3,633.4 432.0,633.7 C433.7,634.0 435.1,634.1 437.1,633.7 C439.1,633.3 441.6,632.6 443.9,631.2 C446.1,629.7 448.7,627.2 450.7,625.2 C452.6,623.2 454.2,620.9 455.7,619.3 C457.3,617.6 458.6,615.9 460.0,615.4 C461.4,614.8 462.8,615.1 464.2,615.9 C465.7,616.7 466.9,618.0 468.5,620.1 C470.0,622.3 471.9,626.2 473.6,628.6 C475.3,631.0 477.0,633.4 478.7,634.6 C480.4,635.7 482.1,636.4 483.8,635.4 C485.5,634.4 487.2,631.7 488.9,628.6 C490.6,625.5 492.2,620.0 493.9,616.7 C495.6,613.5 497.1,611.4 499.0,609.1 C501.0,606.8 503.6,605.3 505.8,603.2 C508.1,601.0 510.4,598.2 512.6,596.4 C514.9,594.5 517.1,593.0 519.4,592.1 C521.7,591.2 524.5,591.1 526.2,590.9 C527.9,590.7 528.5,590.5 529.6,590.9 C530.7,591.4 531.6,593.5 533.0,593.8 C534.4,594.2 536.5,593.2 538.1,593.0 C539.6,592.8 540.9,591.9 542.3,592.6 C543.7,593.3 545.0,595.3 546.6,597.2 C548.1,599.1 550.0,602.2 551.7,604.0 C553.4,605.8 555.0,607.5 556.7,607.9 C558.4,608.3 560.1,606.2 561.8,606.6 C563.5,606.9 565.2,608.4 566.9,609.9 C568.6,611.5 570.3,614.2 572.0,615.9 C573.7,617.5 575.4,619.2 577.1,619.8 C578.8,620.4 580.5,619.8 582.2,619.3 C583.9,618.8 585.6,617.7 587.3,616.7 C589.0,615.8 590.7,614.8 592.4,613.7 C594.1,612.5 595.8,611.0 597.5,609.9 C599.2,608.8 600.6,607.7 602.6,607.1 C604.6,606.4 607.4,606.3 609.4,606.2 C611.3,606.1 612.8,607.2 614.5,606.6 C616.2,605.9 617.9,603.6 619.5,602.3 C621.2,601.0 623.1,599.6 624.6,598.9 C626.2,598.3 627.5,598.1 628.9,598.4 C630.3,598.7 631.6,599.5 633.1,600.6 C634.7,601.7 636.7,603.6 638.2,604.9 C639.8,606.1 641.0,607.6 642.5,607.9 C643.9,608.2 645.1,607.4 646.7,606.9 C648.3,606.4 650.1,604.8 651.8,604.9 C653.5,604.9 655.3,607.4 656.9,607.4 C658.4,607.4 659.7,606.1 661.1,604.9 C662.5,603.6 663.8,601.2 665.4,599.8 C666.9,598.3 668.9,596.5 670.5,596.0 C672.0,595.6 673.2,596.6 674.7,597.2 C676.3,597.8 678.0,598.6 679.8,599.8 C681.6,600.9 684.0,602.9 685.7,604.0 C687.4,605.1 688.4,605.7 690.0,606.2 C691.5,606.7 693.4,607.1 695.1,607.1 C696.8,607.1 698.2,606.6 700.2,606.2 C702.2,605.8 704.7,605.2 707.0,604.5 C709.2,603.9 711.8,603.1 713.8,602.3 C715.7,601.5 717.2,600.7 718.9,599.8 C720.6,598.8 722.0,597.5 723.9,596.7 C725.9,595.9 728.5,595.3 730.7,595.2 C733.0,595.1 735.8,595.5 737.5,596.0 C739.2,596.5 739.6,596.5 740.9,598.1 C742.2,599.6 743.7,603.5 745.2,605.2 C746.6,606.9 748.0,608.2 749.4,608.2 C750.8,608.2 752.2,606.2 753.6,605.2 C755.1,604.2 756.3,603.3 757.9,602.3 C759.4,601.3 761.3,600.8 763.0,599.4 C764.7,598.0 766.4,595.5 768.1,593.8 C769.8,592.2 771.5,590.5 773.2,589.6 C774.9,588.6 776.6,588.4 778.3,588.2 C780.0,588.1 781.7,588.4 783.4,588.7 C785.0,589.0 787.0,588.6 788.4,589.9 C789.9,591.2 790.6,593.0 791.8,596.4 C793.1,599.7 794.7,606.0 796.1,609.9 C797.5,613.9 798.8,617.3 800.3,620.1 C801.9,623.0 803.7,624.9 805.4,626.9 C807.1,628.9 809.0,630.3 810.5,632.0 C812.1,633.7 813.3,635.8 814.8,637.1 C816.2,638.4 817.4,639.5 819.0,639.6 C820.6,639.8 822.5,638.8 824.1,638.0 C825.6,637.1 826.9,635.5 828.3,634.6 C829.7,633.6 831.3,632.2 832.6,632.0 C833.8,631.9 834.6,633.0 836.0,633.7 C837.4,634.4 839.4,635.7 841.1,636.3 C842.8,636.8 844.5,637.2 846.2,636.8 C847.9,636.3 849.5,635.6 851.2,633.7 C852.9,631.8 854.6,627.6 856.3,625.2 C858.0,622.8 859.7,621.4 861.4,619.3 C863.1,617.2 864.8,614.9 866.5,612.5 C868.2,610.1 869.9,606.8 871.6,604.9 C873.3,602.9 875.3,601.6 876.7,600.6 C878.1,599.6 878.7,598.7 880.1,598.9 C881.5,599.1 883.5,600.1 885.2,601.8 C886.9,603.5 888.6,607.3 890.3,609.1 C892.0,610.9 893.8,611.5 895.4,612.5 C896.9,613.5 898.3,613.3 899.6,615.0 C900.9,616.7 901.7,620.8 903.0,622.7 C904.3,624.5 905.7,625.6 907.3,626.1 C908.8,626.5 910.7,625.9 912.3,625.2 C914.0,624.5 916.2,622.5 917.4,621.8 C918.7,621.2 918.7,621.2 920.0,621.3 C921.3,621.5 923.5,622.0 925.1,622.7 C926.7,623.4 927.9,625.3 929.3,625.6 C930.7,625.8 932.0,625.4 933.6,624.4 C935.1,623.3 937.0,621.0 938.7,619.3 C940.4,617.6 942.1,615.7 943.8,614.2 C945.5,612.7 947.3,610.7 948.9,610.3 C950.4,609.9 951.7,610.9 953.1,611.6 C954.5,612.4 955.8,614.2 957.3,615.0 C958.9,615.9 961.0,615.3 962.4,616.7 C963.8,618.1 964.6,620.8 965.8,623.5 C967.1,626.2 968.8,630.8 970.1,632.9 C971.3,634.9 972.1,635.5 973.5,635.7 C974.9,635.9 976.7,634.7 978.6,634.0 C980.4,633.4 982.4,632.3 984.5,631.7 C986.6,631.0 989.3,631.5 991.3,630.3 C993.3,629.1 994.7,626.6 996.4,624.4 C998.1,622.1 999.8,618.9 1001.5,616.7 C1003.2,614.6 1005.0,613.2 1006.6,611.6 C1008.1,610.1 1009.5,608.0 1010.8,607.4 C1012.1,606.8 1012.9,607.5 1014.2,607.9 C1015.5,608.3 1016.9,609.2 1018.4,609.9 C1020.0,610.7 1021.8,611.2 1023.5,612.5 C1025.2,613.8 1026.9,616.7 1028.6,617.6 C1030.3,618.5 1032.0,617.2 1033.7,618.1 C1035.4,619.0 1037.1,622.6 1038.8,623.2 C1040.5,623.8 1042.2,622.3 1043.9,621.8 C1045.6,621.4 1047.3,620.5 1049.0,620.5 C1050.7,620.4 1052.1,621.4 1054.1,621.5 C1056.1,621.6 1058.9,622.2 1060.9,621.0 C1062.9,619.8 1064.4,615.7 1066.0,614.2 C1067.5,612.6 1068.8,612.3 1070.2,611.6 C1071.6,611.0 1072.9,610.5 1074.5,610.5 C1076.0,610.5 1077.9,611.4 1079.5,611.6 C1081.2,611.9 1082.9,612.0 1084.6,612.0 C1086.3,611.9 1087.8,611.4 1089.7,611.3 C1091.7,611.2 1094.5,611.7 1096.5,611.3 C1098.5,610.9 1100.1,609.6 1101.6,609.1 C1103.2,608.6 1104.4,608.1 1105.9,608.2 C1107.3,608.4 1108.5,609.0 1110.1,609.9 C1111.7,610.9 1113.6,612.2 1115.2,614.2 C1116.8,616.2 1118.4,619.5 1119.9,622.2 C1121.5,624.9 1122.8,628.2 1124.2,630.3 C1125.7,632.4 1127.1,632.3 1128.5,634.6 C1129.9,636.8 1131.3,641.1 1132.7,643.9 C1134.1,646.7 1135.6,649.7 1137.0,651.5 C1138.4,653.4 1139.8,654.4 1141.2,654.9 C1142.6,655.5 1144.0,655.6 1145.5,654.9 C1146.9,654.2 1148.3,652.2 1149.7,650.7 C1151.1,649.2 1152.4,646.8 1153.9,645.9 C1155.5,645.1 1157.2,645.4 1159.0,645.6 C1160.9,645.8 1163.1,646.2 1165.0,646.9 C1166.8,647.7 1168.5,649.2 1170.1,649.8 C1171.6,650.5 1172.8,651.0 1174.3,650.7 C1175.9,650.4 1177.6,649.3 1179.4,648.1 C1181.2,647.0 1183.5,645.1 1185.3,643.9 C1187.2,642.7 1189.0,641.1 1190.4,641.0 C1191.9,640.9 1192.6,641.7 1193.8,643.0 C1195.1,644.4 1196.7,648.2 1198.1,649.3 C1199.5,650.5 1200.8,650.3 1202.3,649.8 C1203.9,649.4 1205.6,647.9 1207.4,646.4 C1209.3,645.0 1211.7,643.6 1213.4,641.3 C1215.0,639.1 1216.2,635.7 1217.6,632.9 C1219.0,630.0 1220.4,627.1 1221.8,624.4 C1223.3,621.7 1224.7,619.1 1226.1,616.7 C1227.5,614.3 1229.1,611.5 1230.3,609.9 C1231.6,608.4 1232.3,607.7 1233.7,607.4 C1235.1,607.1 1236.8,608.0 1238.8,608.2 C1240.8,608.5 1243.6,609.2 1245.6,609.1 C1247.6,609.0 1249.0,608.2 1250.7,607.4 C1252.4,606.6 1254.1,605.2 1255.8,604.5 C1257.5,603.9 1259.3,603.8 1260.9,603.5 C1262.4,603.2 1263.8,604.0 1265.1,602.8 C1266.4,601.6 1267.4,598.0 1268.5,596.4 C1269.6,594.8 1270.9,593.5 1271.9,593.3 C1272.9,593.2 1273.5,593.7 1274.5,595.5 C1275.4,597.3 1276.7,601.3 1277.9,604.0 C1279.0,606.7 1280.1,609.7 1281.2,611.6 C1282.4,613.6 1283.5,615.3 1284.6,615.9 C1285.8,616.5 1287.5,615.5 1288.0,615.4" fill="none" stroke="#ee2222" stroke-width="1.4"/></g><g clip-path="url(#c3)"><line x1="1" y1="674.5" x2="1357" y2="674.5" stroke="#d82020" stroke-width="1" shape-rendering="crispEdges"/><line x1="1" y1="709.5" x2="1357" y2="709.5" stroke="#1a7a2a" stroke-width="1" shape-rendering="crispEdges"/><path d="M0.0,667.5 C1.1,667.5 4.5,666.7 6.8,667.0 C9.1,667.3 11.3,668.7 13.6,669.2 C15.8,669.8 17.8,670.5 20.4,670.4 C22.9,670.3 26.0,669.3 28.9,668.7 C31.7,668.2 34.2,667.5 37.3,667.0 C40.5,666.6 44.1,666.3 47.5,666.2 C50.9,666.1 54.6,666.1 57.7,666.5 C60.8,666.9 64.2,667.7 66.2,668.7 C68.2,669.8 68.5,670.9 69.6,673.0 C70.7,675.1 71.7,678.1 73.0,681.5 C74.3,684.9 75.8,689.7 77.2,693.3 C78.6,697.0 80.1,700.6 81.5,703.5 C82.9,706.5 84.3,709.6 85.7,711.2 C87.1,712.7 87.8,712.5 90.0,712.9 C92.1,713.2 95.9,712.7 98.4,713.2 C101.0,713.7 103.1,715.0 105.2,715.7 C107.4,716.5 108.9,717.4 111.2,717.6 C113.4,717.8 116.4,717.1 118.8,716.8 C121.2,716.5 123.3,716.5 125.6,715.7 C127.9,715.0 130.1,713.3 132.4,712.0 C134.7,710.8 136.9,709.3 139.2,708.3 C141.4,707.2 143.6,706.3 146.0,705.7 C148.4,705.2 151.6,706.1 153.6,704.9 C155.6,703.7 156.3,701.5 157.9,698.4 C159.4,695.4 161.2,690.4 162.9,686.6 C164.6,682.7 166.5,678.5 168.0,675.5 C169.6,672.5 170.6,669.9 172.3,668.7 C174.0,667.5 176.1,668.4 178.2,668.4 C180.3,668.4 182.7,668.8 185.0,668.7 C187.3,668.6 189.5,668.3 191.8,667.9 C194.1,667.5 196.3,666.7 198.6,666.2 C200.8,665.6 203.4,664.9 205.4,664.5 C207.4,664.1 208.5,663.6 210.5,663.6 C212.4,663.6 214.4,664.3 217.3,664.5 C220.1,664.7 225.3,664.7 227.4,664.8 C229.6,664.9 228.1,664.8 230.0,665.0 C231.8,665.2 235.7,665.8 238.5,666.2 C241.3,666.5 244.1,666.8 247.0,667.0 C249.8,667.3 253.2,666.7 255.5,667.5 C257.7,668.4 258.6,670.7 260.6,672.1 C262.5,673.6 265.1,675.3 267.3,676.4 C269.6,677.4 272.1,677.9 274.1,678.4 C276.1,678.9 277.5,678.5 279.2,679.4 C280.9,680.4 282.5,682.7 284.3,684.0 C286.2,685.3 288.6,686.2 290.3,687.4 C291.9,688.6 292.9,691.3 294.2,691.1 C295.4,691.0 296.6,688.0 297.9,686.6 C299.2,685.1 300.7,683.4 302.1,682.3 C303.6,681.3 304.8,680.5 306.4,680.3 C307.9,680.1 309.9,680.4 311.5,681.1 C313.0,681.9 314.3,682.5 315.7,684.9 C317.1,687.2 318.4,691.4 320.0,695.0 C321.5,698.7 323.4,703.7 325.0,706.9 C326.7,710.2 328.4,712.8 330.1,714.6 C331.8,716.3 333.4,716.9 335.2,717.4 C337.1,718.0 339.2,718.6 341.2,718.0 C343.2,717.3 345.1,714.8 347.1,713.7 C349.1,712.7 351.1,711.7 353.1,711.7 C355.0,711.6 356.9,712.4 359.0,713.4 C361.1,714.3 363.7,716.3 365.8,717.4 C367.9,718.6 369.7,720.4 371.7,720.5 C373.7,720.6 375.7,719.5 377.7,718.0 C379.6,716.4 381.6,713.3 383.6,711.2 C385.6,709.0 387.6,706.8 389.5,705.2 C391.5,703.7 393.5,702.4 395.5,701.8 C397.5,701.2 399.4,702.1 401.4,701.5 C403.4,700.9 405.5,699.2 407.4,698.4 C409.2,697.6 410.6,697.1 412.5,696.7 C414.3,696.4 416.6,696.3 418.4,696.4 C420.2,696.5 421.8,696.5 423.5,697.6 C425.2,698.6 426.9,701.3 428.6,702.7 C430.3,704.0 431.8,705.1 433.7,705.6 C435.5,706.0 437.6,705.6 439.6,705.2 C441.6,704.9 443.7,704.3 445.6,703.5 C447.4,702.7 449.0,702.0 450.7,700.5 C452.3,698.9 454.2,696.2 455.7,694.2 C457.3,692.2 458.4,690.2 460.0,688.6 C461.5,687.0 463.4,684.9 465.1,684.5 C466.8,684.2 468.5,684.2 470.2,686.6 C471.9,688.9 473.6,694.5 475.3,698.4 C477.0,702.4 478.7,707.6 480.4,710.3 C482.1,713.1 483.8,715.0 485.5,714.9 C487.2,714.8 488.9,712.6 490.6,709.5 C492.2,706.3 493.9,700.6 495.6,695.9 C497.3,691.2 499.0,685.6 500.7,681.5 C502.4,677.4 504.1,673.5 505.8,671.3 C507.5,669.0 508.9,668.7 510.9,667.9 C512.9,667.0 515.2,666.7 517.7,666.2 C520.3,665.6 523.4,664.5 526.2,664.5 C529.0,664.4 531.9,665.4 534.7,665.8 C537.5,666.3 540.3,666.1 543.2,667.0 C546.0,667.9 548.8,669.9 551.7,671.3 C554.5,672.7 557.6,674.1 560.1,675.5 C562.7,676.9 564.7,677.6 566.9,679.8 C569.2,681.9 571.7,685.4 573.7,688.2 C575.7,691.1 577.1,694.6 578.8,696.7 C580.5,698.9 582.2,700.3 583.9,701.0 C585.6,701.7 587.3,701.5 589.0,701.0 C590.7,700.4 592.4,699.4 594.1,697.6 C595.8,695.7 597.5,692.5 599.2,689.9 C600.9,687.4 602.6,684.6 604.3,682.3 C606.0,680.0 607.7,678.1 609.4,676.4 C611.1,674.7 612.5,673.3 614.5,672.1 C616.4,671.0 619.0,670.3 621.2,669.6 C623.5,668.9 625.8,667.9 628.0,667.9 C630.3,667.8 632.8,668.2 634.8,669.2 C636.8,670.2 638.2,672.5 639.9,673.8 C641.6,675.2 643.0,676.8 645.0,677.2 C647.0,677.6 649.8,676.6 651.8,676.0 C653.8,675.5 655.2,674.9 656.9,673.8 C658.6,672.7 660.3,670.6 662.0,669.6 C663.7,668.5 665.1,667.9 667.1,667.5 C669.1,667.2 671.6,667.3 673.9,667.5 C676.1,667.8 678.5,668.1 680.7,669.2 C682.8,670.4 685.0,673.1 686.6,674.3 C688.1,675.6 688.6,676.1 690.0,676.9 C691.4,677.6 693.4,678.8 695.1,678.9 C696.8,679.1 698.5,678.6 700.2,677.7 C701.9,676.9 703.6,675.1 705.3,673.8 C707.0,672.5 708.7,671.0 710.4,669.9 C712.1,668.8 713.2,667.7 715.5,667.0 C717.7,666.4 721.1,666.3 723.9,666.2 C726.8,666.1 729.6,666.3 732.4,666.5 C735.3,666.7 738.8,666.5 740.9,667.5 C743.0,668.6 743.6,671.1 745.2,673.0 C746.7,674.9 748.6,678.0 750.3,678.9 C752.0,679.8 753.5,678.9 755.3,678.6 C757.2,678.3 759.6,678.6 761.3,677.2 C763.0,675.9 764.0,672.3 765.5,670.4 C767.1,668.5 768.5,666.7 770.6,665.8 C772.7,665.0 775.9,665.3 778.3,665.3 C780.7,665.3 783.1,665.3 785.0,665.8 C787.0,666.4 788.4,666.8 790.1,668.7 C791.8,670.6 793.4,673.8 795.2,677.2 C797.1,680.6 799.2,685.0 801.2,689.1 C803.2,693.2 805.3,698.4 807.1,701.8 C809.0,705.2 810.4,707.5 812.2,709.5 C814.0,711.4 816.2,712.4 818.1,713.4 C820.1,714.4 822.2,715.5 824.1,715.4 C825.9,715.3 827.2,713.6 829.2,712.9 C831.2,712.2 833.7,711.3 836.0,711.2 C838.2,711.0 840.5,711.4 842.8,712.0 C845.0,712.7 847.6,714.8 849.5,715.1 C851.5,715.3 852.9,714.4 854.6,713.4 C856.3,712.3 858.0,710.5 859.7,708.6 C861.4,706.7 863.1,704.7 864.8,701.8 C866.5,699.0 868.2,695.0 869.9,691.6 C871.6,688.2 873.3,684.6 875.0,681.5 C876.7,678.3 878.4,674.9 880.1,673.0 C881.8,671.1 883.5,669.8 885.2,670.1 C886.9,670.4 888.4,672.8 890.3,674.7 C892.1,676.6 894.4,679.1 896.2,681.5 C898.1,683.9 899.6,686.8 901.3,689.1 C903.0,691.4 904.6,693.8 906.4,695.0 C908.2,696.3 910.5,696.2 912.3,696.7 C914.2,697.3 916.2,698.3 917.4,698.4 C918.7,698.5 918.7,697.7 920.0,697.2 C921.3,696.8 923.4,695.5 925.1,695.9 C926.8,696.3 928.3,698.7 930.2,699.8 C932.0,700.8 934.1,702.1 936.1,702.2 C938.1,702.3 940.2,702.1 942.1,700.5 C943.9,698.9 945.5,694.5 947.2,692.5 C948.9,690.5 950.3,689.0 952.2,688.2 C954.2,687.5 957.1,687.8 959.0,688.2 C961.0,688.7 962.6,689.0 964.1,690.8 C965.7,692.6 967.0,696.9 968.4,699.3 C969.8,701.7 971.1,703.8 972.6,705.2 C974.2,706.6 976.0,707.0 977.7,707.8 C979.4,708.6 981.1,710.3 982.8,710.0 C984.5,709.7 985.9,707.4 987.9,706.1 C989.9,704.7 992.4,703.8 994.7,701.8 C996.9,699.8 999.5,696.6 1001.5,694.2 C1003.5,691.8 1004.9,689.9 1006.6,687.4 C1008.3,684.9 1010.1,680.7 1011.7,678.9 C1013.2,677.1 1014.2,676.8 1015.9,676.7 C1017.6,676.6 1020.0,677.3 1021.8,678.1 C1023.7,678.8 1025.4,679.8 1026.9,681.1 C1028.5,682.5 1029.5,684.7 1031.2,686.2 C1032.9,687.7 1035.1,688.8 1037.1,689.9 C1039.1,691.1 1041.1,692.9 1043.1,693.3 C1045.0,693.8 1047.2,692.2 1049.0,692.5 C1050.8,692.8 1052.1,694.7 1054.1,695.0 C1056.1,695.4 1058.6,695.4 1060.9,694.7 C1063.1,694.0 1065.5,692.4 1067.7,690.8 C1069.8,689.2 1071.5,686.5 1073.6,684.9 C1075.7,683.2 1078.4,681.5 1080.4,681.1 C1082.4,680.7 1083.6,682.3 1085.5,682.3 C1087.3,682.3 1089.4,681.6 1091.4,681.1 C1093.4,680.6 1095.5,680.6 1097.4,679.4 C1099.2,678.3 1100.9,675.5 1102.5,674.3 C1104.0,673.2 1105.1,672.6 1106.7,672.6 C1108.3,672.6 1110.1,673.1 1111.8,674.3 C1113.5,675.5 1115.5,677.7 1116.9,679.8 C1118.2,681.8 1118.7,683.4 1119.9,686.6 C1121.2,689.7 1122.7,694.8 1124.2,698.4 C1125.8,702.1 1127.6,705.9 1129.3,708.6 C1131.0,711.3 1132.7,713.3 1134.4,714.6 C1136.1,715.8 1137.7,716.1 1139.5,716.3 C1141.4,716.4 1143.5,716.3 1145.5,715.4 C1147.4,714.6 1149.6,712.2 1151.4,711.2 C1153.2,710.2 1154.7,709.7 1156.5,709.5 C1158.3,709.3 1160.5,709.4 1162.4,710.0 C1164.4,710.5 1166.4,711.8 1168.4,712.9 C1170.4,713.9 1172.2,715.6 1174.3,716.3 C1176.4,716.9 1179.0,717.0 1181.1,716.8 C1183.2,716.5 1185.2,715.0 1187.0,714.6 C1188.9,714.1 1190.3,713.9 1192.1,714.0 C1194.0,714.2 1196.0,715.2 1198.1,715.4 C1200.2,715.6 1202.7,715.5 1204.9,715.1 C1207.0,714.6 1209.1,714.1 1210.8,712.9 C1212.5,711.6 1213.5,710.2 1215.0,707.8 C1216.6,705.4 1218.4,701.5 1220.1,698.4 C1221.8,695.3 1223.5,692.2 1225.2,689.1 C1226.9,686.0 1228.8,682.3 1230.3,679.8 C1231.9,677.2 1233.2,675.2 1234.6,673.8 C1236.0,672.5 1237.3,672.1 1238.8,671.6 C1240.4,671.1 1242.1,670.9 1243.9,670.9 C1245.7,671.0 1247.9,672.2 1249.8,672.1 C1251.8,672.0 1253.8,671.1 1255.8,670.4 C1257.8,669.7 1259.9,668.6 1261.7,667.9 C1263.6,667.2 1265.4,666.5 1266.8,666.2 C1268.2,665.8 1268.9,665.3 1270.2,665.8 C1271.5,666.4 1272.9,667.8 1274.5,669.6 C1276.0,671.3 1278.0,674.2 1279.5,676.4 C1281.1,678.5 1282.4,680.6 1283.8,682.3 C1285.2,684.0 1287.3,685.8 1288.0,686.6" fill="none" stroke="#1c7a2c" stroke-width="1.6"/><path d="M0.0,668.2 C1.1,667.9 4.5,666.5 6.8,666.5 C9.1,666.5 11.3,667.8 13.6,668.2 C15.8,668.7 17.8,669.2 20.4,669.2 C22.9,669.3 26.0,669.0 28.9,668.7 C31.7,668.4 34.2,667.9 37.3,667.5 C40.5,667.2 44.1,666.9 47.5,666.7 C50.9,666.5 54.3,666.0 57.7,666.2 C61.1,666.3 65.3,666.8 67.9,667.5 C70.4,668.2 71.3,668.7 73.0,670.4 C74.7,672.2 76.4,675.2 78.1,678.1 C79.8,680.9 81.5,684.1 83.2,687.4 C84.9,690.7 86.6,694.5 88.3,697.6 C90.0,700.7 91.7,703.8 93.4,706.1 C95.0,708.3 96.5,709.7 98.4,711.2 C100.4,712.6 103.0,713.7 105.2,714.6 C107.5,715.4 109.8,715.9 112.0,716.3 C114.3,716.6 116.5,716.7 118.8,716.8 C121.1,716.8 123.3,717.0 125.6,716.8 C127.9,716.5 130.1,715.7 132.4,715.1 C134.7,714.4 136.9,713.7 139.2,712.9 C141.4,712.0 143.7,711.0 146.0,710.0 C148.2,709.0 150.6,708.0 152.8,706.9 C154.9,705.8 156.7,705.4 158.7,703.5 C160.7,701.7 162.8,698.7 164.6,695.9 C166.5,693.1 168.0,689.7 169.7,686.6 C171.4,683.4 173.1,679.6 174.8,677.2 C176.5,674.8 178.2,673.3 179.9,672.1 C181.6,670.9 183.0,670.5 185.0,669.9 C187.0,669.3 189.5,668.9 191.8,668.4 C194.1,667.9 196.3,667.5 198.6,667.0 C200.8,666.6 203.1,666.2 205.4,665.8 C207.6,665.5 209.6,665.1 212.2,664.8 C214.7,664.6 217.8,664.5 220.7,664.5 C223.6,664.5 226.6,664.5 229.6,664.8 C232.5,665.1 235.6,665.8 238.5,666.2 C241.4,666.6 243.9,666.9 247.0,667.0 C250.1,667.2 254.3,666.5 257.2,667.0 C260.0,667.6 261.7,669.2 263.9,670.4 C266.2,671.6 268.5,673.1 270.7,674.3 C273.0,675.5 275.3,676.5 277.5,677.7 C279.8,678.9 282.1,680.3 284.3,681.5 C286.6,682.6 288.8,683.9 291.1,684.9 C293.4,685.8 295.6,687.1 297.9,687.4 C300.2,687.7 302.4,687.2 304.7,686.6 C306.9,685.9 309.5,684.1 311.5,683.5 C313.5,682.9 314.9,682.0 316.6,682.8 C318.3,683.6 320.0,685.9 321.7,688.2 C323.4,690.6 325.0,693.9 326.7,696.7 C328.4,699.6 330.1,702.7 331.8,705.2 C333.5,707.8 335.1,710.2 336.9,712.0 C338.8,713.9 340.9,715.6 342.9,716.3 C344.9,716.9 346.7,716.1 348.8,715.7 C350.9,715.4 353.3,714.4 355.6,714.0 C357.9,713.7 360.3,713.2 362.4,713.4 C364.5,713.5 366.4,714.4 368.3,715.1 C370.3,715.7 372.3,716.7 374.3,717.1 C376.3,717.5 378.2,717.8 380.2,717.4 C382.2,717.1 384.0,716.3 386.2,715.1 C388.3,713.8 390.7,711.6 392.9,710.0 C395.2,708.4 397.5,706.9 399.7,705.6 C402.0,704.3 404.3,703.2 406.5,702.2 C408.8,701.1 411.0,700.1 413.3,699.3 C415.6,698.4 418.0,697.4 420.1,697.1 C422.2,696.8 424.1,697.1 426.0,697.6 C428.0,698.1 430.0,699.3 432.0,700.1 C434.0,701.0 435.9,701.9 437.9,702.7 C439.9,703.5 441.9,704.5 443.9,704.9 C445.8,705.3 447.8,705.5 449.8,704.9 C451.8,704.2 454.0,702.3 455.7,701.0 C457.4,699.6 458.4,698.1 460.0,696.7 C461.5,695.3 463.4,693.9 465.1,692.5 C466.8,691.1 468.3,689.2 470.2,688.6 C472.0,688.0 474.3,687.9 476.1,689.1 C478.0,690.3 479.5,693.3 481.2,695.9 C482.9,698.4 484.6,702.2 486.3,704.4 C488.0,706.6 489.7,708.5 491.4,709.0 C493.1,709.4 494.8,708.7 496.5,706.9 C498.2,705.2 499.9,701.7 501.6,698.4 C503.3,695.2 505.0,690.9 506.7,687.4 C508.4,683.9 509.9,680.0 511.8,677.2 C513.6,674.4 515.6,672.2 517.7,670.4 C519.8,668.6 522.2,667.4 524.5,666.5 C526.8,665.7 528.7,665.4 531.3,665.3 C533.8,665.3 536.9,665.8 539.8,666.2 C542.6,666.6 545.4,666.8 548.3,667.5 C551.1,668.2 553.9,669.2 556.7,670.4 C559.6,671.6 562.7,673.1 565.2,674.7 C567.8,676.2 569.8,677.6 572.0,679.8 C574.3,681.9 576.5,684.9 578.8,687.4 C581.1,689.9 583.5,692.9 585.6,694.7 C587.7,696.5 589.7,697.8 591.5,698.4 C593.4,699.1 594.8,699.1 596.6,698.4 C598.5,697.7 600.6,696.0 602.6,694.2 C604.6,692.4 606.5,689.7 608.5,687.4 C610.5,685.1 612.5,682.7 614.5,680.6 C616.4,678.5 618.4,676.2 620.4,674.7 C622.4,673.1 624.4,672.3 626.3,671.3 C628.3,670.3 630.3,669.0 632.3,668.7 C634.3,668.4 636.2,669.0 638.2,669.6 C640.2,670.1 642.2,671.3 644.2,672.1 C646.1,672.9 648.1,673.9 650.1,674.3 C652.1,674.8 654.1,675.2 656.0,675.0 C658.0,674.8 660.0,673.7 662.0,673.0 C664.0,672.2 665.9,671.2 667.9,670.4 C669.9,669.7 671.9,668.7 673.9,668.4 C675.8,668.1 677.8,667.9 679.8,668.4 C681.8,668.9 684.0,670.4 685.7,671.3 C687.4,672.1 688.3,672.7 690.0,673.5 C691.7,674.3 694.0,675.4 695.9,676.0 C697.9,676.7 699.9,677.2 701.9,677.2 C703.9,677.2 705.8,676.8 707.8,676.0 C709.8,675.3 711.6,673.9 713.8,672.6 C715.9,671.4 718.3,669.7 720.6,668.7 C722.8,667.7 724.8,667.0 727.3,666.7 C729.9,666.4 733.3,666.6 735.8,666.7 C738.4,666.8 740.5,666.8 742.6,667.5 C744.7,668.2 746.6,669.7 748.6,670.9 C750.5,672.1 752.5,673.6 754.5,674.7 C756.5,675.7 758.5,676.9 760.4,677.2 C762.4,677.5 764.4,677.2 766.4,676.4 C768.4,675.5 770.3,673.6 772.3,672.1 C774.3,670.7 776.3,668.6 778.3,667.5 C780.2,666.5 782.4,666.0 784.2,665.8 C786.0,665.7 787.6,665.9 789.3,666.5 C791.0,667.1 792.5,667.9 794.4,669.6 C796.2,671.2 798.3,673.5 800.3,676.4 C802.3,679.2 804.3,683.2 806.3,686.6 C808.2,689.9 810.2,693.5 812.2,696.7 C814.2,700.0 816.2,703.5 818.1,706.1 C820.1,708.6 822.1,710.7 824.1,712.0 C826.1,713.3 827.8,713.6 830.0,713.7 C832.3,713.9 835.3,713.1 837.7,712.9 C840.1,712.6 842.2,712.4 844.5,712.4 C846.7,712.4 849.0,712.8 851.2,712.9 C853.5,712.9 855.8,713.3 858.0,712.9 C860.3,712.4 862.7,711.9 864.8,710.3 C866.9,708.8 868.8,706.2 870.8,703.5 C872.7,700.8 874.7,697.4 876.7,694.2 C878.7,690.9 880.7,687.0 882.6,684.0 C884.6,681.0 886.7,678.0 888.6,676.4 C890.4,674.8 892.0,674.3 893.7,674.3 C895.4,674.3 897.1,674.9 898.8,676.4 C900.5,677.8 902.0,680.9 903.9,683.2 C905.7,685.4 907.8,688.0 909.8,689.9 C911.8,691.9 914.0,694.0 915.7,695.0 C917.4,696.1 918.1,696.2 920.0,696.4 C921.8,696.6 924.5,696.1 926.8,696.4 C929.1,696.7 931.0,697.8 933.6,698.4 C936.1,699.1 939.7,700.5 942.1,700.5 C944.5,700.5 946.0,699.5 948.0,698.4 C950.0,697.4 951.8,695.6 953.9,694.2 C956.1,692.8 958.8,690.7 960.7,689.9 C962.7,689.2 964.1,689.2 965.8,689.9 C967.5,690.7 969.1,692.4 970.9,694.2 C972.8,696.0 974.9,698.9 976.9,701.0 C978.8,703.0 981.0,705.4 982.8,706.6 C984.6,707.8 985.9,708.2 987.9,708.3 C989.9,708.3 992.4,708.0 994.7,706.9 C996.9,705.8 999.2,703.9 1001.5,701.8 C1003.7,699.7 1006.0,696.9 1008.3,694.2 C1010.5,691.5 1012.9,688.1 1015.0,685.7 C1017.2,683.3 1019.2,681.0 1021.0,679.8 C1022.8,678.5 1024.2,678.3 1026.1,678.4 C1027.9,678.5 1029.9,679.4 1032.0,680.6 C1034.1,681.8 1036.5,684.1 1038.8,685.7 C1041.1,687.3 1043.3,688.8 1045.6,689.9 C1047.9,691.1 1050.1,691.9 1052.4,692.5 C1054.7,693.1 1056.9,693.5 1059.2,693.7 C1061.4,693.9 1063.7,694.0 1066.0,693.7 C1068.2,693.3 1070.5,692.7 1072.8,691.6 C1075.0,690.6 1077.3,688.8 1079.5,687.4 C1081.8,686.0 1084.1,684.1 1086.3,683.2 C1088.6,682.2 1090.9,681.9 1093.1,681.5 C1095.4,681.0 1097.7,680.9 1099.9,680.3 C1102.2,679.6 1104.4,678.6 1106.7,677.7 C1109.0,676.8 1111.4,675.1 1113.5,675.0 C1115.6,674.9 1117.5,675.5 1119.3,677.0 C1121.1,678.5 1122.6,681.1 1124.2,684.0 C1125.9,686.9 1127.6,690.8 1129.3,694.2 C1131.0,697.6 1132.7,701.5 1134.4,704.4 C1136.1,707.2 1137.7,709.5 1139.5,711.2 C1141.4,712.9 1143.5,713.9 1145.5,714.6 C1147.4,715.2 1149.4,715.3 1151.4,715.1 C1153.4,714.8 1155.4,713.6 1157.3,712.9 C1159.3,712.1 1161.3,711.1 1163.3,710.7 C1165.3,710.2 1167.2,710.1 1169.2,710.3 C1171.2,710.5 1173.2,711.3 1175.2,712.0 C1177.1,712.7 1179.0,714.0 1181.1,714.6 C1183.2,715.1 1185.6,715.3 1187.9,715.4 C1190.2,715.5 1192.4,715.3 1194.7,715.4 C1196.9,715.5 1199.2,715.8 1201.5,715.7 C1203.7,715.7 1206.1,715.4 1208.3,715.1 C1210.4,714.7 1212.4,714.6 1214.2,713.7 C1216.0,712.8 1217.6,711.4 1219.3,709.5 C1221.0,707.5 1222.7,704.5 1224.4,701.8 C1226.1,699.1 1227.8,696.2 1229.5,693.3 C1231.2,690.5 1232.9,687.4 1234.6,684.9 C1236.3,682.3 1238.0,679.9 1239.7,678.1 C1241.4,676.2 1242.9,674.8 1244.8,673.8 C1246.6,672.8 1248.6,672.6 1250.7,672.1 C1252.8,671.6 1255.2,671.4 1257.5,670.9 C1259.7,670.5 1262.1,670.1 1264.3,669.6 C1266.4,669.0 1268.4,667.9 1270.2,667.5 C1272.1,667.2 1273.6,667.3 1275.3,667.5 C1277.0,667.8 1278.8,668.5 1280.4,669.2 C1282.0,670.0 1283.4,671.1 1284.6,672.1 C1285.9,673.2 1287.5,675.0 1288.0,675.5" fill="none" stroke="#ee2222" stroke-width="1.4"/></g><path d="M199.5,584.5 L205.5,584.5 L202.5,588 Z" fill="#1c7a2c"/><g fill="#000" shape-rendering="crispEdges"><rect x="0" y="0" width="1414" height="1"/><rect x="0" y="750" width="1414" height="1"/><rect x="0" y="0" width="1" height="751"/><rect x="1413" y="0" width="1" height="751"/><rect x="1357" y="0" width="1" height="751"/><rect x="0" y="578" width="1414" height="1"/><rect x="0" y="660" width="1414" height="1"/><rect x="0" y="721" width="1414" height="1"/><rect x="0" y="736" width="1357" height="1"/><rect x="44" y="721" width="1" height="15"/><rect x="130" y="721" width="1" height="15"/><rect x="211" y="721" width="1" height="15"/><rect x="293" y="721" width="1" height="15"/><rect x="375" y="721" width="1" height="15"/><rect x="461" y="721" width="1" height="30"/><rect x="539" y="721" width="1" height="15"/><rect x="613" y="721" width="1" height="15"/><rect x="703" y="721" width="1" height="15"/><rect x="781" y="721" width="1" height="15"/><rect x="863" y="721" width="1" height="15"/><rect x="948" y="721" width="1" height="15"/><rect x="1026" y="721" width="1" height="15"/><rect x="1116" y="721" width="1" height="15"/><rect x="1198" y="721" width="1" height="15"/><rect x="1280" y="721" width="1" height="15"/><rect x="1358" y="7" width="5" height="1"/><rect x="1358" y="16" width="2" height="1"/><rect x="1358" y="24" width="2" height="1"/><rect x="1358" y="33" width="2" height="1"/><rect x="1358" y="41" width="2" height="1"/><rect x="1358" y="50" width="2" height="1"/><rect x="1358" y="59" width="2" height="1"/><rect x="1358" y="67" width="2" height="1"/><rect x="1358" y="76" width="2" height="1"/><rect x="1358" y="84" width="2" height="1"/><rect x="1358" y="93" width="5" height="1"/><rect x="1358" y="102" width="2" height="1"/><rect x="1358" y="110" width="2" height="1"/><rect x="1358" y="119" width="2" height="1"/><rect x="1358" y="127" width="2" height="1"/><rect x="1358" y="136" width="2" height="1"/><rect x="1358" y="145" width="2" height="1"/><rect x="1358" y="153" width="2" height="1"/><rect x="1358" y="162" width="2" height="1"/><rect x="1358" y="170" width="2" height="1"/><rect x="1358" y="179" width="5" height="1"/><rect x="1358" y="188" width="2" height="1"/><rect x="1358" y="196" width="2" height="1"/><rect x="1358" y="205" width="2" height="1"/><rect x="1358" y="213" width="2" height="1"/><rect x="1358" y="222" width="2" height="1"/><rect x="1358" y="231" width="2" height="1"/><rect x="1358" y="239" width="2" height="1"/><rect x="1358" y="248" width="2" height="1"/><rect x="1358" y="256" width="2" height="1"/><rect x="1358" y="265" width="5" height="1"/><rect x="1358" y="274" width="2" height="1"/><rect x="1358" y="282" width="2" height="1"/><rect x="1358" y="291" width="2" height="1"/><rect x="1358" y="299" width="2" height="1"/><rect x="1358" y="308" width="2" height="1"/><rect x="1358" y="317" width="2" height="1"/><rect x="1358" y="325" width="2" height="1"/><rect x="1358" y="334" width="2" height="1"/><rect x="1358" y="342" width="2" height="1"/><rect x="1358" y="351" width="5" height="1"/><rect x="1358" y="360" width="2" height="1"/><rect x="1358" y="368" width="2" height="1"/><rect x="1358" y="377" width="2" height="1"/><rect x="1358" y="385" width="2" height="1"/><rect x="1358" y="394" width="2" height="1"/><rect x="1358" y="403" width="2" height="1"/><rect x="1358" y="411" width="2" height="1"/><rect x="1358" y="420" width="2" height="1"/><rect x="1358" y="428" width="2" height="1"/><rect x="1358" y="437" width="5" height="1"/><rect x="1358" y="446" width="2" height="1"/><rect x="1358" y="454" width="2" height="1"/><rect x="1358" y="463" width="2" height="1"/><rect x="1358" y="471" width="2" height="1"/><rect x="1358" y="480" width="2" height="1"/><rect x="1358" y="489" width="2" height="1"/><rect x="1358" y="497" width="2" height="1"/><rect x="1358" y="506" width="2" height="1"/><rect x="1358" y="514" width="2" height="1"/><rect x="1358" y="523" width="5" height="1"/><rect x="1358" y="532" width="2" height="1"/><rect x="1358" y="540" width="2" height="1"/><rect x="1358" y="549" width="2" height="1"/><rect x="1358" y="557" width="2" height="1"/><rect x="1358" y="566" width="2" height="1"/><rect x="1358" y="575" width="2" height="1"/><rect x="1358" y="657" width="2" height="1"/><rect x="1358" y="654" width="2" height="1"/><rect x="1358" y="651" width="2" height="1"/><rect x="1358" y="648" width="5" height="1"/><rect x="1358" y="645" width="2" height="1"/><rect x="1358" y="642" width="2" height="1"/><rect x="1358" y="639" width="2" height="1"/><rect x="1358" y="636" width="2" height="1"/><rect x="1358" y="633" width="2" height="1"/><rect x="1358" y="630" width="2" height="1"/><rect x="1358" y="627" width="2" height="1"/><rect x="1358" y="624" width="2" height="1"/><rect x="1358" y="621" width="2" height="1"/><rect x="1358" y="618" width="5" height="1"/><rect x="1358" y="615" width="2" height="1"/><rect x="1358" y="612" width="2" height="1"/><rect x="1358" y="609" width="2" height="1"/><rect x="1358" y="606" width="2" height="1"/><rect x="1358" y="603" width="2" height="1"/><rect x="1358" y="600" width="2" height="1"/><rect x="1358" y="596" width="2" height="1"/><rect x="1358" y="593" width="2" height="1"/><rect x="1358" y="590" width="2" height="1"/><rect x="1358" y="587" width="5" height="1"/><rect x="1358" y="584" width="2" height="1"/><rect x="1358" y="581" width="2" height="1"/><rect x="1358" y="663" width="5" height="1"/><rect x="1358" y="669" width="2" height="1"/><rect x="1358" y="675" width="2" height="1"/><rect x="1358" y="680" width="2" height="1"/><rect x="1358" y="686" width="2" height="1"/><rect x="1358" y="692" width="2" height="1"/><rect x="1358" y="698" width="2" height="1"/><rect x="1358" y="704" width="2" height="1"/><rect x="1358" y="710" width="2" height="1"/><rect x="1358" y="716" width="2" height="1"/></g><g fill="#101010" style="letter-spacing:-0.22px"><text x="1367" y="11.0">155,00</text><text x="1367" y="97.0">150,00</text><text x="1367" y="183.0">145,00</text><text x="1367" y="269.0">140,00</text><text x="1367" y="355.0">135,00</text><text x="1367" y="441.7">130,00</text><text x="1367" y="527.7">125,00</text><text x="1366" y="592">2,50000</text><text x="1366" y="622.5">0,00000</text><text x="1366" y="653">-2,50000</text></g><rect x="1357.5" y="292.5" width="41" height="17" fill="#f5f5e1" stroke="#000" stroke-width="1" shape-rendering="crispEdges"/><text x="1361.5" y="305" fill="#000" style="letter-spacing:-0.15px">137,94</text><rect x="1357.5" y="666.5" width="35" height="17" fill="#fff4e4" stroke="#c83030" stroke-width="1" shape-rendering="crispEdges"/><text x="1361" y="679" fill="#d82828">80,00</text><rect x="1357.5" y="701.5" width="35" height="17" fill="#fff4e4" stroke="#c83030" stroke-width="1" shape-rendering="crispEdges"/><text x="1361" y="714" fill="#d82828">20,00</text><g fill="#101010" text-anchor="middle"><text x="87.5" y="733">aug.</text><text x="171.0" y="733">szept.</text><text x="252.5" y="733">okt.</text><text x="334.5" y="733">nov.</text><text x="418.5" y="733">dec.</text><text x="500.5" y="733">jan.</text><text x="576.5" y="733">febr.</text><text x="658.5" y="733">márc.</text><text x="742.5" y="733">ápr.</text><text x="822.5" y="733">máj.</text><text x="906.0" y="733">jún.</text><text x="987.5" y="733">júl.</text><text x="1071.5" y="733">aug.</text><text x="1157.5" y="733">szept.</text><text x="1239.5" y="733">okt.</text><text x="229.3" y="748">2010</text><text x="910" y="748">2011</text></g><text x="1284" y="733" fill="#101010">nov.</text><text x="23" y="733" fill="#101010">l.</text><rect x="1" y="722" width="21" height="14" fill="#f4f0dc"/><text x="1" y="733" fill="#101010">.13.</text><rect x="2.5" y="2.5" width="16" height="16" fill="#deded2" stroke="#000" stroke-width="1" shape-rendering="crispEdges"/><path d="M6,9 L16,9 L11,14 Z" fill="#000"/><defs><linearGradient id="ig" x1="0" y1="0" x2="1" y2="1"><stop offset="0" stop-color="#1d9a46"/><stop offset="0.55" stop-color="#2aa84a"/><stop offset="0.62" stop-color="#e07a20"/><stop offset="1" stop-color="#e06818"/></linearGradient></defs><defs><linearGradient id="ig2" x1="0" y1="1" x2="1" y2="0"><stop offset="0" stop-color="#0c8a3c"/><stop offset="0.6" stop-color="#1f9e4a"/><stop offset="1" stop-color="#48c070"/></linearGradient><linearGradient id="ig3" x1="0" y1="0" x2="1" y2="1"><stop offset="0.3" stop-color="#d8901c"/><stop offset="0.7" stop-color="#e8741c"/><stop offset="1" stop-color="#d85c14"/></linearGradient></defs><rect x="26" y="3" width="16" height="16" fill="url(#ig2)"/><path d="M42,7.5 L42,19 L31,19 L35.5,13.5 L37,10 Z" fill="url(#ig3)"/><rect x="36.5" y="14" width="3.5" height="4" fill="#f4a878" opacity="0.8"/><g fill="#f2fae4" shape-rendering="crispEdges"><rect x="29" y="6" width="1" height="7"/><rect x="29" y="6" width="3" height="1"/><rect x="29" y="9" width="3" height="1"/><rect x="29" y="12" width="3" height="1"/><rect x="33" y="8" width="1" height="5"/><rect x="35" y="8" width="1" height="5"/><rect x="33" y="8" width="3" height="1"/><rect x="33" y="12" width="3" height="1"/></g><text x="43.5" y="14" fill="#101010" style="letter-spacing:0.12px">FXE:arcx Napi GMT+1</text><path d="M156.5,8 L161.5,8 L159,11 Z" fill="#000"/><text x="172" y="14" fill="#e02020" style="letter-spacing:-0.2px">MAE 100</text><path d="M219.5,8 L225.5,8 L222.5,11 Z" fill="#e02020"/><text x="236" y="14" fill="#2020d0" style="letter-spacing:-0.2px">MAE 8; [1]</text><path d="M289.5,8 L295.5,8 L292.5,11 Z" fill="#2020d0"/><g shape-rendering="crispEdges"><rect x="1329.5" y="4.5" width="10" height="8" fill="none" stroke="#000"/><rect x="1329" y="4" width="11" height="2" fill="#000"/></g><g shape-rendering="crispEdges"><rect x="1329.5" y="582.5" width="10" height="8" fill="none" stroke="#000"/><rect x="1329" y="582" width="11" height="2" fill="#000"/></g><path d="M1346,583 l8,8 M1354,583 l-8,8" stroke="#000" stroke-width="2" fill="none"/><g shape-rendering="crispEdges"><rect x="1329.5" y="664.5" width="10" height="8" fill="none" stroke="#000"/><rect x="1329" y="664" width="11" height="2" fill="#000"/></g><path d="M1346,665 l8,8 M1354,665 l-8,8" stroke="#000" stroke-width="2" fill="none"/></svg></body></html>
